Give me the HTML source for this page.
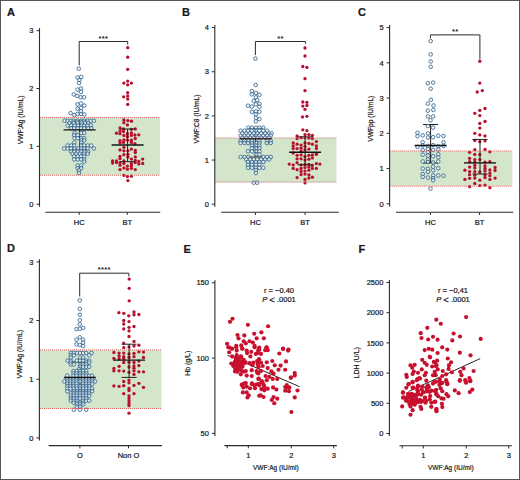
<!DOCTYPE html>
<html><head><meta charset="utf-8"><style>
html,body{margin:0;padding:0;background:#fff;}
svg{display:block;}
text{font-family:"Liberation Sans",sans-serif;fill:#1a1a1a;stroke:#1a1a1a;stroke-width:0.22px;}
</style></head><body>
<svg width="520" height="480" viewBox="0 0 520 480">
<rect x="0" y="0" width="520" height="480" fill="#fff"/>
<text x="7" y="16" font-size="11" text-anchor="start" font-weight="bold" font-style="normal" >A</text>
<rect x="39.5" y="117.44" width="120.5" height="57.83" fill="#d3e6cb"/>
<line x1="39.5" y1="28.09" x2="39.5" y2="206.79" stroke="#2b2b2b" stroke-width="1.1"/>
<line x1="36.5" y1="204.2" x2="39.5" y2="204.2" stroke="#2b2b2b" stroke-width="1"/>
<text x="33.5" y="206.89" font-size="7.5" text-anchor="end" font-weight="normal" font-style="normal" >0</text>
<line x1="36.5" y1="146.36" x2="39.5" y2="146.36" stroke="#2b2b2b" stroke-width="1"/>
<text x="33.5" y="149.06" font-size="7.5" text-anchor="end" font-weight="normal" font-style="normal" >1</text>
<line x1="36.5" y1="88.53" x2="39.5" y2="88.53" stroke="#2b2b2b" stroke-width="1"/>
<text x="33.5" y="91.23" font-size="7.5" text-anchor="end" font-weight="normal" font-style="normal" >2</text>
<line x1="36.5" y1="30.69" x2="39.5" y2="30.69" stroke="#2b2b2b" stroke-width="1"/>
<text x="33.5" y="33.39" font-size="7.5" text-anchor="end" font-weight="normal" font-style="normal" >3</text>
<line x1="45.5" y1="212.2" x2="160.2" y2="212.2" stroke="#2b2b2b" stroke-width="1.1"/>
<line x1="79.2" y1="212.2" x2="79.2" y2="214.89" stroke="#2b2b2b" stroke-width="1"/>
<text x="79.2" y="224.7" font-size="7.5" text-anchor="middle" font-weight="normal" font-style="normal" >HC</text>
<line x1="127.3" y1="212.2" x2="127.3" y2="214.89" stroke="#2b2b2b" stroke-width="1"/>
<text x="127.3" y="224.7" font-size="7.5" text-anchor="middle" font-weight="normal" font-style="normal" >BT</text>
<text transform="translate(23.0,119.9) rotate(-90) scale(0.83,1)" font-size="8" text-anchor="middle">VWF:Ag (IU/mL)</text>
<text x="182" y="16" font-size="11" text-anchor="start" font-weight="bold" font-style="normal" >B</text>
<rect x="214.8" y="137.97" width="121.69" height="44.15" fill="#d3e6cb"/>
<line x1="214.8" y1="25.0" x2="214.8" y2="206.79" stroke="#2b2b2b" stroke-width="1.1"/>
<line x1="211.8" y1="204.2" x2="214.8" y2="204.2" stroke="#2b2b2b" stroke-width="1"/>
<text x="208.8" y="206.89" font-size="7.5" text-anchor="end" font-weight="normal" font-style="normal" >0</text>
<line x1="211.8" y1="160.04" x2="214.8" y2="160.04" stroke="#2b2b2b" stroke-width="1"/>
<text x="208.8" y="162.74" font-size="7.5" text-anchor="end" font-weight="normal" font-style="normal" >1</text>
<line x1="211.8" y1="115.89" x2="214.8" y2="115.89" stroke="#2b2b2b" stroke-width="1"/>
<text x="208.8" y="118.6" font-size="7.5" text-anchor="end" font-weight="normal" font-style="normal" >2</text>
<line x1="211.8" y1="71.75" x2="214.8" y2="71.75" stroke="#2b2b2b" stroke-width="1"/>
<text x="208.8" y="74.45" font-size="7.5" text-anchor="end" font-weight="normal" font-style="normal" >3</text>
<line x1="211.8" y1="27.59" x2="214.8" y2="27.59" stroke="#2b2b2b" stroke-width="1"/>
<text x="208.8" y="30.29" font-size="7.5" text-anchor="end" font-weight="normal" font-style="normal" >4</text>
<line x1="221.3" y1="212.3" x2="338.7" y2="212.3" stroke="#2b2b2b" stroke-width="1.1"/>
<line x1="255.4" y1="212.3" x2="255.4" y2="215.0" stroke="#2b2b2b" stroke-width="1"/>
<text x="255.4" y="224.8" font-size="7.5" text-anchor="middle" font-weight="normal" font-style="normal" >HC</text>
<line x1="305.1" y1="212.3" x2="305.1" y2="215.0" stroke="#2b2b2b" stroke-width="1"/>
<text x="305.1" y="224.8" font-size="7.5" text-anchor="middle" font-weight="normal" font-style="normal" >BT</text>
<text transform="translate(199.1,119.0) rotate(-90) scale(0.83,1)" font-size="8" text-anchor="middle">VWF:C8 (IU/mL)</text>
<text x="358" y="16" font-size="11" text-anchor="start" font-weight="bold" font-style="normal" >C</text>
<rect x="389.6" y="150.94" width="122.69" height="35.24" fill="#d3e6cb"/>
<line x1="389.6" y1="25.0" x2="389.6" y2="206.4" stroke="#2b2b2b" stroke-width="1.1"/>
<line x1="386.6" y1="203.8" x2="389.6" y2="203.8" stroke="#2b2b2b" stroke-width="1"/>
<text x="383.6" y="206.5" font-size="7.5" text-anchor="end" font-weight="normal" font-style="normal" >0</text>
<line x1="386.6" y1="168.56" x2="389.6" y2="168.56" stroke="#2b2b2b" stroke-width="1"/>
<text x="383.6" y="171.26" font-size="7.5" text-anchor="end" font-weight="normal" font-style="normal" >1</text>
<line x1="386.6" y1="133.32" x2="389.6" y2="133.32" stroke="#2b2b2b" stroke-width="1"/>
<text x="383.6" y="136.01" font-size="7.5" text-anchor="end" font-weight="normal" font-style="normal" >2</text>
<line x1="386.6" y1="98.08" x2="389.6" y2="98.08" stroke="#2b2b2b" stroke-width="1"/>
<text x="383.6" y="100.78" font-size="7.5" text-anchor="end" font-weight="normal" font-style="normal" >3</text>
<line x1="386.6" y1="62.84" x2="389.6" y2="62.84" stroke="#2b2b2b" stroke-width="1"/>
<text x="383.6" y="65.54" font-size="7.5" text-anchor="end" font-weight="normal" font-style="normal" >4</text>
<line x1="386.6" y1="27.59" x2="389.6" y2="27.59" stroke="#2b2b2b" stroke-width="1"/>
<text x="383.6" y="30.29" font-size="7.5" text-anchor="end" font-weight="normal" font-style="normal" >5</text>
<line x1="396" y1="212.3" x2="513.3" y2="212.3" stroke="#2b2b2b" stroke-width="1.1"/>
<line x1="430.4" y1="212.3" x2="430.4" y2="215.0" stroke="#2b2b2b" stroke-width="1"/>
<text x="430.4" y="224.8" font-size="7.5" text-anchor="middle" font-weight="normal" font-style="normal" >HC</text>
<line x1="479.6" y1="212.3" x2="479.6" y2="215.0" stroke="#2b2b2b" stroke-width="1"/>
<text x="479.6" y="224.8" font-size="7.5" text-anchor="middle" font-weight="normal" font-style="normal" >BT</text>
<text transform="translate(372.6,118.75) rotate(-90) scale(0.83,1)" font-size="8" text-anchor="middle">VWFpp (IU/mL)</text>
<text x="7" y="252.3" font-size="11" text-anchor="start" font-weight="bold" font-style="normal" >D</text>
<rect x="39.4" y="349.9" width="122.1" height="58.66" fill="#d3e6cb"/>
<line x1="39.4" y1="259.29" x2="39.4" y2="440.5" stroke="#2b2b2b" stroke-width="1.1"/>
<line x1="36.4" y1="437.9" x2="39.4" y2="437.9" stroke="#2b2b2b" stroke-width="1"/>
<text x="33.4" y="440.59" font-size="7.5" text-anchor="end" font-weight="normal" font-style="normal" >0</text>
<line x1="36.4" y1="379.23" x2="39.4" y2="379.23" stroke="#2b2b2b" stroke-width="1"/>
<text x="33.4" y="381.93" font-size="7.5" text-anchor="end" font-weight="normal" font-style="normal" >1</text>
<line x1="36.4" y1="320.56" x2="39.4" y2="320.56" stroke="#2b2b2b" stroke-width="1"/>
<text x="33.4" y="323.26" font-size="7.5" text-anchor="end" font-weight="normal" font-style="normal" >2</text>
<line x1="36.4" y1="261.9" x2="39.4" y2="261.9" stroke="#2b2b2b" stroke-width="1"/>
<text x="33.4" y="264.59" font-size="7.5" text-anchor="end" font-weight="normal" font-style="normal" >3</text>
<line x1="48.7" y1="445.6" x2="161.9" y2="445.6" stroke="#2b2b2b" stroke-width="1.1"/>
<line x1="79.9" y1="445.6" x2="79.9" y2="448.3" stroke="#2b2b2b" stroke-width="1"/>
<text x="79.9" y="458.1" font-size="7.5" text-anchor="middle" font-weight="normal" font-style="normal" >O</text>
<line x1="128.5" y1="445.6" x2="128.5" y2="448.3" stroke="#2b2b2b" stroke-width="1"/>
<text x="128.5" y="458.1" font-size="7.5" text-anchor="middle" font-weight="normal" font-style="normal" >Non O</text>
<text transform="translate(22.2,354.2) rotate(-90) scale(0.83,1)" font-size="8" text-anchor="middle">VWF:Ag (IU/mL)</text>
<text x="183.5" y="252.5" font-size="11" text-anchor="start" font-weight="bold" font-style="normal" >E</text>
<line x1="214.9" y1="280.15" x2="214.9" y2="436.0" stroke="#2b2b2b" stroke-width="1.1"/>
<line x1="211.9" y1="433.4" x2="214.9" y2="433.4" stroke="#2b2b2b" stroke-width="1"/>
<text x="208.9" y="436.09" font-size="7.5" text-anchor="end" font-weight="normal" font-style="normal" >50</text>
<line x1="211.9" y1="358.07" x2="214.9" y2="358.07" stroke="#2b2b2b" stroke-width="1"/>
<text x="208.9" y="360.77" font-size="7.5" text-anchor="end" font-weight="normal" font-style="normal" >100</text>
<line x1="211.9" y1="282.75" x2="214.9" y2="282.75" stroke="#2b2b2b" stroke-width="1"/>
<text x="208.9" y="285.45" font-size="7.5" text-anchor="end" font-weight="normal" font-style="normal" >150</text>
<line x1="224.4" y1="445.6" x2="336.9" y2="445.6" stroke="#2b2b2b" stroke-width="1.1"/>
<line x1="227.2" y1="445.6" x2="227.2" y2="448.3" stroke="#2b2b2b" stroke-width="1"/>
<line x1="248.3" y1="445.6" x2="248.3" y2="448.3" stroke="#2b2b2b" stroke-width="1"/>
<text x="248.3" y="458.1" font-size="7.5" text-anchor="middle" font-weight="normal" font-style="normal" >1</text>
<line x1="291.25" y1="445.6" x2="291.25" y2="448.3" stroke="#2b2b2b" stroke-width="1"/>
<text x="291.25" y="458.1" font-size="7.5" text-anchor="middle" font-weight="normal" font-style="normal" >2</text>
<line x1="333.75" y1="445.6" x2="333.75" y2="448.3" stroke="#2b2b2b" stroke-width="1"/>
<text x="333.75" y="458.1" font-size="7.5" text-anchor="middle" font-weight="normal" font-style="normal" >3</text>
<text transform="translate(275.77,470.1) scale(0.87,1)" font-size="7.5" text-anchor="middle">VWF:Ag (IU/ml)</text>
<text transform="translate(189.6,363.3) rotate(-90) scale(0.87,1)" font-size="8" text-anchor="middle">Hb (g/L)</text>
<text x="358.5" y="252.5" font-size="11" text-anchor="start" font-weight="bold" font-style="normal" >F</text>
<line x1="389.4" y1="279.9" x2="389.4" y2="436.1" stroke="#2b2b2b" stroke-width="1.1"/>
<line x1="386.4" y1="433.5" x2="389.4" y2="433.5" stroke="#2b2b2b" stroke-width="1"/>
<text x="383.4" y="436.2" font-size="7.5" text-anchor="end" font-weight="normal" font-style="normal" >0</text>
<line x1="386.4" y1="403.3" x2="389.4" y2="403.3" stroke="#2b2b2b" stroke-width="1"/>
<text x="383.4" y="406.0" font-size="7.5" text-anchor="end" font-weight="normal" font-style="normal" >500</text>
<line x1="386.4" y1="373.1" x2="389.4" y2="373.1" stroke="#2b2b2b" stroke-width="1"/>
<text x="383.4" y="375.8" font-size="7.5" text-anchor="end" font-weight="normal" font-style="normal" >1000</text>
<line x1="386.4" y1="342.9" x2="389.4" y2="342.9" stroke="#2b2b2b" stroke-width="1"/>
<text x="383.4" y="345.59" font-size="7.5" text-anchor="end" font-weight="normal" font-style="normal" >1500</text>
<line x1="386.4" y1="312.7" x2="389.4" y2="312.7" stroke="#2b2b2b" stroke-width="1"/>
<text x="383.4" y="315.4" font-size="7.5" text-anchor="end" font-weight="normal" font-style="normal" >2000</text>
<line x1="386.4" y1="282.5" x2="389.4" y2="282.5" stroke="#2b2b2b" stroke-width="1"/>
<text x="383.4" y="285.2" font-size="7.5" text-anchor="end" font-weight="normal" font-style="normal" >2500</text>
<line x1="399.4" y1="445.8" x2="511.9" y2="445.8" stroke="#2b2b2b" stroke-width="1.1"/>
<line x1="402.2" y1="445.8" x2="402.2" y2="448.5" stroke="#2b2b2b" stroke-width="1"/>
<line x1="423.3" y1="445.8" x2="423.3" y2="448.5" stroke="#2b2b2b" stroke-width="1"/>
<text x="423.3" y="458.3" font-size="7.5" text-anchor="middle" font-weight="normal" font-style="normal" >1</text>
<line x1="466.25" y1="445.8" x2="466.25" y2="448.5" stroke="#2b2b2b" stroke-width="1"/>
<text x="466.25" y="458.3" font-size="7.5" text-anchor="middle" font-weight="normal" font-style="normal" >2</text>
<line x1="508.75" y1="445.8" x2="508.75" y2="448.5" stroke="#2b2b2b" stroke-width="1"/>
<text x="508.75" y="458.3" font-size="7.5" text-anchor="middle" font-weight="normal" font-style="normal" >3</text>
<text transform="translate(450.77,470.3) scale(0.87,1)" font-size="7.5" text-anchor="middle">VWF:Ag (IU/ml)</text>
<text transform="translate(359.3,362.8) rotate(-90) scale(0.87,1)" font-size="8" text-anchor="middle">LDH (U/L)</text>
<text x="279.0" y="293" font-size="7.5" text-anchor="middle" font-weight="normal" font-style="normal" >r = −0.40</text>
<text x="279.0" y="302.3" font-size="7.5" text-anchor="middle"><tspan font-style="italic">P</tspan> <tspan font-size="9.5" dy="0.3">&lt;</tspan><tspan dy="-0.3"> .0001</tspan></text>
<text x="453.0" y="293" font-size="7.5" text-anchor="middle" font-weight="normal" font-style="normal" >r = −0,41</text>
<text x="453.0" y="302.3" font-size="7.5" text-anchor="middle"><tspan font-style="italic">P</tspan> <tspan font-size="9.5" dy="0.3">&lt;</tspan><tspan dy="-0.3"> .0001</tspan></text>
<polyline points="79.2,65.4 79.2,41.5 127.7,41.5 127.7,44.6" fill="none" stroke="#2b2b2b" stroke-width="1"/>
<text x="103.45" y="40.5" font-size="7.5" text-anchor="middle" font-weight="bold" font-style="normal" style="stroke-width:0" letter-spacing="0.3">***</text>
<polyline points="255.4,55 255.4,41.5 305.4,41.5 305.4,43.8" fill="none" stroke="#2b2b2b" stroke-width="1"/>
<text x="280.4" y="40.5" font-size="7.5" text-anchor="middle" font-weight="bold" font-style="normal" style="stroke-width:0" letter-spacing="0.3">**</text>
<polyline points="430.4,38.2 430.4,34.9 479.9,34.9 479.9,59.2" fill="none" stroke="#2b2b2b" stroke-width="1"/>
<text x="455.15" y="34" font-size="7.5" text-anchor="middle" font-weight="bold" font-style="normal" style="stroke-width:0" letter-spacing="0.3">**</text>
<polyline points="79.7,296.5 79.7,273.2 128.9,273.2 128.9,276.5" fill="none" stroke="#2b2b2b" stroke-width="1"/>
<text x="104.30" y="272" font-size="7.5" text-anchor="middle" font-weight="bold" font-style="normal" style="stroke-width:0" letter-spacing="0.3">****</text>
<line x1="79.6" y1="120.4" x2="79.6" y2="149.2" stroke="#1e1e1e" stroke-width="1"/>
<line x1="72.1" y1="120.4" x2="87.1" y2="120.4" stroke="#1e1e1e" stroke-width="1"/>
<line x1="72.1" y1="149.2" x2="87.1" y2="149.2" stroke="#1e1e1e" stroke-width="1"/>
<circle cx="78.75" cy="68.75" r="1.8" fill="#f2f7fa" fill-opacity="0.6" stroke="#2b5d8a" stroke-width="0.8"/>
<circle cx="77.5" cy="77.5" r="1.8" fill="#f2f7fa" fill-opacity="0.6" stroke="#2b5d8a" stroke-width="0.8"/>
<circle cx="81.25" cy="76.9" r="1.8" fill="#f2f7fa" fill-opacity="0.6" stroke="#2b5d8a" stroke-width="0.8"/>
<circle cx="79.4" cy="80" r="1.8" fill="#f2f7fa" fill-opacity="0.6" stroke="#2b5d8a" stroke-width="0.8"/>
<circle cx="79" cy="83.1" r="1.8" fill="#f2f7fa" fill-opacity="0.6" stroke="#2b5d8a" stroke-width="0.8"/>
<circle cx="77.5" cy="89.6" r="1.8" fill="#f2f7fa" fill-opacity="0.6" stroke="#2b5d8a" stroke-width="0.8"/>
<circle cx="81" cy="88.5" r="1.8" fill="#f2f7fa" fill-opacity="0.6" stroke="#2b5d8a" stroke-width="0.8"/>
<circle cx="81" cy="91.9" r="1.8" fill="#f2f7fa" fill-opacity="0.6" stroke="#2b5d8a" stroke-width="0.8"/>
<circle cx="73.75" cy="94.4" r="1.8" fill="#f2f7fa" fill-opacity="0.6" stroke="#2b5d8a" stroke-width="0.8"/>
<circle cx="77.25" cy="96" r="1.8" fill="#f2f7fa" fill-opacity="0.6" stroke="#2b5d8a" stroke-width="0.8"/>
<circle cx="80.6" cy="97.25" r="1.8" fill="#f2f7fa" fill-opacity="0.6" stroke="#2b5d8a" stroke-width="0.8"/>
<circle cx="84" cy="97.25" r="1.8" fill="#f2f7fa" fill-opacity="0.6" stroke="#2b5d8a" stroke-width="0.8"/>
<circle cx="77.5" cy="104.4" r="1.8" fill="#f2f7fa" fill-opacity="0.6" stroke="#2b5d8a" stroke-width="0.8"/>
<circle cx="81" cy="103.5" r="1.8" fill="#f2f7fa" fill-opacity="0.6" stroke="#2b5d8a" stroke-width="0.8"/>
<circle cx="84.4" cy="105.6" r="1.8" fill="#f2f7fa" fill-opacity="0.6" stroke="#2b5d8a" stroke-width="0.8"/>
<circle cx="77.5" cy="108.75" r="1.8" fill="#f2f7fa" fill-opacity="0.6" stroke="#2b5d8a" stroke-width="0.8"/>
<circle cx="81" cy="108" r="1.8" fill="#f2f7fa" fill-opacity="0.6" stroke="#2b5d8a" stroke-width="0.8"/>
<circle cx="81" cy="111.25" r="1.8" fill="#f2f7fa" fill-opacity="0.6" stroke="#2b5d8a" stroke-width="0.8"/>
<circle cx="70.6" cy="113.1" r="1.8" fill="#f2f7fa" fill-opacity="0.6" stroke="#2b5d8a" stroke-width="0.8"/>
<circle cx="74.4" cy="115" r="1.8" fill="#f2f7fa" fill-opacity="0.6" stroke="#2b5d8a" stroke-width="0.8"/>
<circle cx="77.5" cy="114" r="1.8" fill="#f2f7fa" fill-opacity="0.6" stroke="#2b5d8a" stroke-width="0.8"/>
<circle cx="81" cy="114" r="1.8" fill="#f2f7fa" fill-opacity="0.6" stroke="#2b5d8a" stroke-width="0.8"/>
<circle cx="84.4" cy="114.4" r="1.8" fill="#f2f7fa" fill-opacity="0.6" stroke="#2b5d8a" stroke-width="0.8"/>
<circle cx="64.6" cy="120.75" r="1.8" fill="#f2f7fa" fill-opacity="0.6" stroke="#2b5d8a" stroke-width="0.8"/>
<circle cx="67.6" cy="120.75" r="1.8" fill="#f2f7fa" fill-opacity="0.6" stroke="#2b5d8a" stroke-width="0.8"/>
<circle cx="70.7" cy="120.75" r="1.8" fill="#f2f7fa" fill-opacity="0.6" stroke="#2b5d8a" stroke-width="0.8"/>
<circle cx="73.7" cy="120.75" r="1.8" fill="#f2f7fa" fill-opacity="0.6" stroke="#2b5d8a" stroke-width="0.8"/>
<circle cx="77.2" cy="120.75" r="1.8" fill="#f2f7fa" fill-opacity="0.6" stroke="#2b5d8a" stroke-width="0.8"/>
<circle cx="81.2" cy="120.75" r="1.8" fill="#f2f7fa" fill-opacity="0.6" stroke="#2b5d8a" stroke-width="0.8"/>
<circle cx="84.2" cy="120.75" r="1.8" fill="#f2f7fa" fill-opacity="0.6" stroke="#2b5d8a" stroke-width="0.8"/>
<circle cx="87.7" cy="120.75" r="1.8" fill="#f2f7fa" fill-opacity="0.6" stroke="#2b5d8a" stroke-width="0.8"/>
<circle cx="90.8" cy="120.75" r="1.8" fill="#f2f7fa" fill-opacity="0.6" stroke="#2b5d8a" stroke-width="0.8"/>
<circle cx="93.9" cy="120.75" r="1.8" fill="#f2f7fa" fill-opacity="0.6" stroke="#2b5d8a" stroke-width="0.8"/>
<circle cx="69.4" cy="122.9" r="1.8" fill="#f2f7fa" fill-opacity="0.6" stroke="#2b5d8a" stroke-width="0.8"/>
<circle cx="73.7" cy="122.9" r="1.8" fill="#f2f7fa" fill-opacity="0.6" stroke="#2b5d8a" stroke-width="0.8"/>
<circle cx="77.7" cy="122.9" r="1.8" fill="#f2f7fa" fill-opacity="0.6" stroke="#2b5d8a" stroke-width="0.8"/>
<circle cx="81.6" cy="122.9" r="1.8" fill="#f2f7fa" fill-opacity="0.6" stroke="#2b5d8a" stroke-width="0.8"/>
<circle cx="85.1" cy="122.9" r="1.8" fill="#f2f7fa" fill-opacity="0.6" stroke="#2b5d8a" stroke-width="0.8"/>
<circle cx="88.2" cy="122.9" r="1.8" fill="#f2f7fa" fill-opacity="0.6" stroke="#2b5d8a" stroke-width="0.8"/>
<circle cx="67.6" cy="125.6" r="1.8" fill="#f2f7fa" fill-opacity="0.6" stroke="#2b5d8a" stroke-width="0.8"/>
<circle cx="71.1" cy="125.6" r="1.8" fill="#f2f7fa" fill-opacity="0.6" stroke="#2b5d8a" stroke-width="0.8"/>
<circle cx="74.6" cy="125.6" r="1.8" fill="#f2f7fa" fill-opacity="0.6" stroke="#2b5d8a" stroke-width="0.8"/>
<circle cx="78.1" cy="125.6" r="1.8" fill="#f2f7fa" fill-opacity="0.6" stroke="#2b5d8a" stroke-width="0.8"/>
<circle cx="81.6" cy="125.6" r="1.8" fill="#f2f7fa" fill-opacity="0.6" stroke="#2b5d8a" stroke-width="0.8"/>
<circle cx="84.2" cy="125.6" r="1.8" fill="#f2f7fa" fill-opacity="0.6" stroke="#2b5d8a" stroke-width="0.8"/>
<circle cx="87.7" cy="125.6" r="1.8" fill="#f2f7fa" fill-opacity="0.6" stroke="#2b5d8a" stroke-width="0.8"/>
<circle cx="90.8" cy="125.6" r="1.8" fill="#f2f7fa" fill-opacity="0.6" stroke="#2b5d8a" stroke-width="0.8"/>
<circle cx="71.1" cy="128.2" r="1.8" fill="#f2f7fa" fill-opacity="0.6" stroke="#2b5d8a" stroke-width="0.8"/>
<circle cx="74.2" cy="128.2" r="1.8" fill="#f2f7fa" fill-opacity="0.6" stroke="#2b5d8a" stroke-width="0.8"/>
<circle cx="77.7" cy="128.2" r="1.8" fill="#f2f7fa" fill-opacity="0.6" stroke="#2b5d8a" stroke-width="0.8"/>
<circle cx="81.2" cy="128.2" r="1.8" fill="#f2f7fa" fill-opacity="0.6" stroke="#2b5d8a" stroke-width="0.8"/>
<circle cx="84.2" cy="128.2" r="1.8" fill="#f2f7fa" fill-opacity="0.6" stroke="#2b5d8a" stroke-width="0.8"/>
<circle cx="88.2" cy="128.2" r="1.8" fill="#f2f7fa" fill-opacity="0.6" stroke="#2b5d8a" stroke-width="0.8"/>
<circle cx="91.2" cy="128.2" r="1.8" fill="#f2f7fa" fill-opacity="0.6" stroke="#2b5d8a" stroke-width="0.8"/>
<circle cx="74.6" cy="133" r="1.8" fill="#f2f7fa" fill-opacity="0.6" stroke="#2b5d8a" stroke-width="0.8"/>
<circle cx="81.2" cy="133" r="1.8" fill="#f2f7fa" fill-opacity="0.6" stroke="#2b5d8a" stroke-width="0.8"/>
<circle cx="84.2" cy="133" r="1.8" fill="#f2f7fa" fill-opacity="0.6" stroke="#2b5d8a" stroke-width="0.8"/>
<circle cx="74.2" cy="135.2" r="1.8" fill="#f2f7fa" fill-opacity="0.6" stroke="#2b5d8a" stroke-width="0.8"/>
<circle cx="77.7" cy="135.2" r="1.8" fill="#f2f7fa" fill-opacity="0.6" stroke="#2b5d8a" stroke-width="0.8"/>
<circle cx="74.6" cy="138.2" r="1.8" fill="#f2f7fa" fill-opacity="0.6" stroke="#2b5d8a" stroke-width="0.8"/>
<circle cx="77.7" cy="138.2" r="1.8" fill="#f2f7fa" fill-opacity="0.6" stroke="#2b5d8a" stroke-width="0.8"/>
<circle cx="81.2" cy="138.2" r="1.8" fill="#f2f7fa" fill-opacity="0.6" stroke="#2b5d8a" stroke-width="0.8"/>
<circle cx="84.2" cy="138.2" r="1.8" fill="#f2f7fa" fill-opacity="0.6" stroke="#2b5d8a" stroke-width="0.8"/>
<circle cx="81.2" cy="140.4" r="1.8" fill="#f2f7fa" fill-opacity="0.6" stroke="#2b5d8a" stroke-width="0.8"/>
<circle cx="84.2" cy="140.4" r="1.8" fill="#f2f7fa" fill-opacity="0.6" stroke="#2b5d8a" stroke-width="0.8"/>
<circle cx="74.2" cy="142.6" r="1.8" fill="#f2f7fa" fill-opacity="0.6" stroke="#2b5d8a" stroke-width="0.8"/>
<circle cx="81.2" cy="142.6" r="1.8" fill="#f2f7fa" fill-opacity="0.6" stroke="#2b5d8a" stroke-width="0.8"/>
<circle cx="67.6" cy="145.5" r="1.8" fill="#f2f7fa" fill-opacity="0.6" stroke="#2b5d8a" stroke-width="0.8"/>
<circle cx="71.1" cy="145.5" r="1.8" fill="#f2f7fa" fill-opacity="0.6" stroke="#2b5d8a" stroke-width="0.8"/>
<circle cx="74.2" cy="145.5" r="1.8" fill="#f2f7fa" fill-opacity="0.6" stroke="#2b5d8a" stroke-width="0.8"/>
<circle cx="81.2" cy="145.5" r="1.8" fill="#f2f7fa" fill-opacity="0.6" stroke="#2b5d8a" stroke-width="0.8"/>
<circle cx="84.2" cy="145.5" r="1.8" fill="#f2f7fa" fill-opacity="0.6" stroke="#2b5d8a" stroke-width="0.8"/>
<circle cx="87.7" cy="145.5" r="1.8" fill="#f2f7fa" fill-opacity="0.6" stroke="#2b5d8a" stroke-width="0.8"/>
<circle cx="91.2" cy="145.5" r="1.8" fill="#f2f7fa" fill-opacity="0.6" stroke="#2b5d8a" stroke-width="0.8"/>
<circle cx="64.1" cy="148.5" r="1.8" fill="#f2f7fa" fill-opacity="0.6" stroke="#2b5d8a" stroke-width="0.8"/>
<circle cx="67.6" cy="148.5" r="1.8" fill="#f2f7fa" fill-opacity="0.6" stroke="#2b5d8a" stroke-width="0.8"/>
<circle cx="71.1" cy="148.5" r="1.8" fill="#f2f7fa" fill-opacity="0.6" stroke="#2b5d8a" stroke-width="0.8"/>
<circle cx="74.6" cy="148.5" r="1.8" fill="#f2f7fa" fill-opacity="0.6" stroke="#2b5d8a" stroke-width="0.8"/>
<circle cx="78.1" cy="148.5" r="1.8" fill="#f2f7fa" fill-opacity="0.6" stroke="#2b5d8a" stroke-width="0.8"/>
<circle cx="81.2" cy="148.5" r="1.8" fill="#f2f7fa" fill-opacity="0.6" stroke="#2b5d8a" stroke-width="0.8"/>
<circle cx="84.2" cy="148.5" r="1.8" fill="#f2f7fa" fill-opacity="0.6" stroke="#2b5d8a" stroke-width="0.8"/>
<circle cx="87.7" cy="148.5" r="1.8" fill="#f2f7fa" fill-opacity="0.6" stroke="#2b5d8a" stroke-width="0.8"/>
<circle cx="93.9" cy="148.5" r="1.8" fill="#f2f7fa" fill-opacity="0.6" stroke="#2b5d8a" stroke-width="0.8"/>
<circle cx="71.1" cy="151.6" r="1.8" fill="#f2f7fa" fill-opacity="0.6" stroke="#2b5d8a" stroke-width="0.8"/>
<circle cx="74.2" cy="151.6" r="1.8" fill="#f2f7fa" fill-opacity="0.6" stroke="#2b5d8a" stroke-width="0.8"/>
<circle cx="77.7" cy="151.6" r="1.8" fill="#f2f7fa" fill-opacity="0.6" stroke="#2b5d8a" stroke-width="0.8"/>
<circle cx="81.2" cy="151.6" r="1.8" fill="#f2f7fa" fill-opacity="0.6" stroke="#2b5d8a" stroke-width="0.8"/>
<circle cx="84.2" cy="151.6" r="1.8" fill="#f2f7fa" fill-opacity="0.6" stroke="#2b5d8a" stroke-width="0.8"/>
<circle cx="88.2" cy="151.6" r="1.8" fill="#f2f7fa" fill-opacity="0.6" stroke="#2b5d8a" stroke-width="0.8"/>
<circle cx="72.4" cy="153.7" r="1.8" fill="#f2f7fa" fill-opacity="0.6" stroke="#2b5d8a" stroke-width="0.8"/>
<circle cx="76.4" cy="153.7" r="1.8" fill="#f2f7fa" fill-opacity="0.6" stroke="#2b5d8a" stroke-width="0.8"/>
<circle cx="79.9" cy="153.7" r="1.8" fill="#f2f7fa" fill-opacity="0.6" stroke="#2b5d8a" stroke-width="0.8"/>
<circle cx="84.2" cy="153.7" r="1.8" fill="#f2f7fa" fill-opacity="0.6" stroke="#2b5d8a" stroke-width="0.8"/>
<circle cx="87.7" cy="153.7" r="1.8" fill="#f2f7fa" fill-opacity="0.6" stroke="#2b5d8a" stroke-width="0.8"/>
<circle cx="74.2" cy="156.4" r="1.8" fill="#f2f7fa" fill-opacity="0.6" stroke="#2b5d8a" stroke-width="0.8"/>
<circle cx="77.7" cy="156.4" r="1.8" fill="#f2f7fa" fill-opacity="0.6" stroke="#2b5d8a" stroke-width="0.8"/>
<circle cx="81.2" cy="156.4" r="1.8" fill="#f2f7fa" fill-opacity="0.6" stroke="#2b5d8a" stroke-width="0.8"/>
<circle cx="84.2" cy="156.4" r="1.8" fill="#f2f7fa" fill-opacity="0.6" stroke="#2b5d8a" stroke-width="0.8"/>
<circle cx="74.2" cy="159.4" r="1.8" fill="#f2f7fa" fill-opacity="0.6" stroke="#2b5d8a" stroke-width="0.8"/>
<circle cx="77.7" cy="159.4" r="1.8" fill="#f2f7fa" fill-opacity="0.6" stroke="#2b5d8a" stroke-width="0.8"/>
<circle cx="81.2" cy="159.4" r="1.8" fill="#f2f7fa" fill-opacity="0.6" stroke="#2b5d8a" stroke-width="0.8"/>
<circle cx="84.2" cy="159.4" r="1.8" fill="#f2f7fa" fill-opacity="0.6" stroke="#2b5d8a" stroke-width="0.8"/>
<circle cx="84.2" cy="161.6" r="1.8" fill="#f2f7fa" fill-opacity="0.6" stroke="#2b5d8a" stroke-width="0.8"/>
<circle cx="77.7" cy="165.6" r="1.8" fill="#f2f7fa" fill-opacity="0.6" stroke="#2b5d8a" stroke-width="0.8"/>
<circle cx="81.2" cy="165.6" r="1.8" fill="#f2f7fa" fill-opacity="0.6" stroke="#2b5d8a" stroke-width="0.8"/>
<circle cx="77.7" cy="168.2" r="1.8" fill="#f2f7fa" fill-opacity="0.6" stroke="#2b5d8a" stroke-width="0.8"/>
<circle cx="81.2" cy="168.2" r="1.8" fill="#f2f7fa" fill-opacity="0.6" stroke="#2b5d8a" stroke-width="0.8"/>
<circle cx="79" cy="170.4" r="1.8" fill="#f2f7fa" fill-opacity="0.6" stroke="#2b5d8a" stroke-width="0.8"/>
<circle cx="79" cy="173" r="1.8" fill="#f2f7fa" fill-opacity="0.6" stroke="#2b5d8a" stroke-width="0.8"/>
<circle cx="127.7" cy="47.7" r="1.65" fill="#b80f2c"/>
<circle cx="127.7" cy="57.2" r="1.65" fill="#b80f2c"/>
<circle cx="127.7" cy="69.3" r="1.65" fill="#b80f2c"/>
<circle cx="127.7" cy="81.1" r="1.65" fill="#b80f2c"/>
<circle cx="123.9" cy="83.1" r="1.65" fill="#b80f2c"/>
<circle cx="131.4" cy="83.1" r="1.65" fill="#b80f2c"/>
<circle cx="127.7" cy="84.8" r="1.65" fill="#b80f2c"/>
<circle cx="127.7" cy="92.7" r="1.65" fill="#b80f2c"/>
<circle cx="127.7" cy="95.9" r="1.65" fill="#b80f2c"/>
<circle cx="123.7" cy="96.8" r="1.65" fill="#b80f2c"/>
<circle cx="127.7" cy="99" r="1.65" fill="#b80f2c"/>
<circle cx="127.7" cy="104.4" r="1.65" fill="#b80f2c"/>
<circle cx="123.9" cy="119.9" r="1.65" fill="#b80f2c"/>
<circle cx="127.9" cy="120.6" r="1.65" fill="#b80f2c"/>
<circle cx="131.5" cy="121.2" r="1.65" fill="#b80f2c"/>
<circle cx="123.9" cy="122.7" r="1.65" fill="#b80f2c"/>
<circle cx="127.4" cy="124.9" r="1.65" fill="#b80f2c"/>
<circle cx="120" cy="128" r="1.65" fill="#b80f2c"/>
<circle cx="123.5" cy="128.9" r="1.65" fill="#b80f2c"/>
<circle cx="131.4" cy="129.3" r="1.65" fill="#b80f2c"/>
<circle cx="135.3" cy="128.9" r="1.65" fill="#b80f2c"/>
<circle cx="120" cy="131.1" r="1.65" fill="#b80f2c"/>
<circle cx="123.5" cy="131.5" r="1.65" fill="#b80f2c"/>
<circle cx="116.5" cy="133.2" r="1.65" fill="#b80f2c"/>
<circle cx="120" cy="133.7" r="1.65" fill="#b80f2c"/>
<circle cx="127.4" cy="133.7" r="1.65" fill="#b80f2c"/>
<circle cx="131.4" cy="132.8" r="1.65" fill="#b80f2c"/>
<circle cx="131.4" cy="135.4" r="1.65" fill="#b80f2c"/>
<circle cx="134.9" cy="135" r="1.65" fill="#b80f2c"/>
<circle cx="138.8" cy="134.8" r="1.65" fill="#b80f2c"/>
<circle cx="123.9" cy="135.4" r="1.65" fill="#b80f2c"/>
<circle cx="127.4" cy="136.7" r="1.65" fill="#b80f2c"/>
<circle cx="135.3" cy="138.5" r="1.65" fill="#b80f2c"/>
<circle cx="123.9" cy="139.8" r="1.65" fill="#b80f2c"/>
<circle cx="120" cy="140.7" r="1.65" fill="#b80f2c"/>
<circle cx="127.4" cy="140.2" r="1.65" fill="#b80f2c"/>
<circle cx="131.4" cy="140.2" r="1.65" fill="#b80f2c"/>
<circle cx="123.5" cy="142.4" r="1.65" fill="#b80f2c"/>
<circle cx="120" cy="142.9" r="1.65" fill="#b80f2c"/>
<circle cx="131.4" cy="142.4" r="1.65" fill="#b80f2c"/>
<circle cx="134.9" cy="143.7" r="1.65" fill="#b80f2c"/>
<circle cx="123.9" cy="147.3" r="1.65" fill="#b80f2c"/>
<circle cx="131.4" cy="149.1" r="1.65" fill="#b80f2c"/>
<circle cx="120" cy="149.9" r="1.65" fill="#b80f2c"/>
<circle cx="123.9" cy="150.8" r="1.65" fill="#b80f2c"/>
<circle cx="127.9" cy="150.8" r="1.65" fill="#b80f2c"/>
<circle cx="135.3" cy="150.4" r="1.65" fill="#b80f2c"/>
<circle cx="135.3" cy="152.6" r="1.65" fill="#b80f2c"/>
<circle cx="127.9" cy="154.3" r="1.65" fill="#b80f2c"/>
<circle cx="123.9" cy="154.7" r="1.65" fill="#b80f2c"/>
<circle cx="120" cy="156.5" r="1.65" fill="#b80f2c"/>
<circle cx="135.3" cy="156.9" r="1.65" fill="#b80f2c"/>
<circle cx="120" cy="158.7" r="1.65" fill="#b80f2c"/>
<circle cx="127.9" cy="156.9" r="1.65" fill="#b80f2c"/>
<circle cx="131.4" cy="159.1" r="1.65" fill="#b80f2c"/>
<circle cx="142.7" cy="159.1" r="1.65" fill="#b80f2c"/>
<circle cx="112.6" cy="160.9" r="1.65" fill="#b80f2c"/>
<circle cx="116.5" cy="160.9" r="1.65" fill="#b80f2c"/>
<circle cx="123.9" cy="160.9" r="1.65" fill="#b80f2c"/>
<circle cx="135.3" cy="160.4" r="1.65" fill="#b80f2c"/>
<circle cx="138.8" cy="161.3" r="1.65" fill="#b80f2c"/>
<circle cx="112.6" cy="163.1" r="1.65" fill="#b80f2c"/>
<circle cx="116.5" cy="162.6" r="1.65" fill="#b80f2c"/>
<circle cx="120" cy="162.6" r="1.65" fill="#b80f2c"/>
<circle cx="123.9" cy="163.5" r="1.65" fill="#b80f2c"/>
<circle cx="131.4" cy="163.5" r="1.65" fill="#b80f2c"/>
<circle cx="135.3" cy="162.6" r="1.65" fill="#b80f2c"/>
<circle cx="138.8" cy="163.9" r="1.65" fill="#b80f2c"/>
<circle cx="142.7" cy="163.5" r="1.65" fill="#b80f2c"/>
<circle cx="120" cy="165.2" r="1.65" fill="#b80f2c"/>
<circle cx="127.4" cy="166.1" r="1.65" fill="#b80f2c"/>
<circle cx="131.4" cy="165.7" r="1.65" fill="#b80f2c"/>
<circle cx="123.9" cy="167.9" r="1.65" fill="#b80f2c"/>
<circle cx="127.4" cy="169.2" r="1.65" fill="#b80f2c"/>
<circle cx="131.4" cy="168.3" r="1.65" fill="#b80f2c"/>
<circle cx="120" cy="169.6" r="1.65" fill="#b80f2c"/>
<circle cx="135.3" cy="169.6" r="1.65" fill="#b80f2c"/>
<circle cx="123.9" cy="175.3" r="1.65" fill="#b80f2c"/>
<circle cx="127.4" cy="176.6" r="1.65" fill="#b80f2c"/>
<circle cx="131.4" cy="176.2" r="1.65" fill="#b80f2c"/>
<circle cx="127.9" cy="180.6" r="1.65" fill="#b80f2c"/>
<line x1="127.6" y1="129" x2="127.6" y2="161.7" stroke="#1e1e1e" stroke-width="1"/>
<line x1="120.1" y1="129" x2="135.1" y2="129" stroke="#1e1e1e" stroke-width="1"/>
<line x1="120.1" y1="161.7" x2="135.1" y2="161.7" stroke="#1e1e1e" stroke-width="1"/>
<line x1="63.59" y1="129.9" x2="95.6" y2="129.9" stroke="#141414" stroke-width="1.35"/>
<line x1="111.6" y1="145" x2="143.6" y2="145" stroke="#141414" stroke-width="1.35"/>
<line x1="255.6" y1="128.4" x2="255.6" y2="157" stroke="#1e1e1e" stroke-width="1"/>
<line x1="248.1" y1="128.4" x2="263.1" y2="128.4" stroke="#1e1e1e" stroke-width="1"/>
<line x1="248.1" y1="157" x2="263.1" y2="157" stroke="#1e1e1e" stroke-width="1"/>
<circle cx="255.4" cy="58.6" r="1.8" fill="#f2f7fa" fill-opacity="0.6" stroke="#2b5d8a" stroke-width="0.8"/>
<circle cx="255.7" cy="85" r="1.8" fill="#f2f7fa" fill-opacity="0.6" stroke="#2b5d8a" stroke-width="0.8"/>
<circle cx="251.9" cy="91.1" r="1.8" fill="#f2f7fa" fill-opacity="0.6" stroke="#2b5d8a" stroke-width="0.8"/>
<circle cx="251.9" cy="94.3" r="1.8" fill="#f2f7fa" fill-opacity="0.6" stroke="#2b5d8a" stroke-width="0.8"/>
<circle cx="255.9" cy="93" r="1.8" fill="#f2f7fa" fill-opacity="0.6" stroke="#2b5d8a" stroke-width="0.8"/>
<circle cx="259.4" cy="94.7" r="1.8" fill="#f2f7fa" fill-opacity="0.6" stroke="#2b5d8a" stroke-width="0.8"/>
<circle cx="255.9" cy="97.4" r="1.8" fill="#f2f7fa" fill-opacity="0.6" stroke="#2b5d8a" stroke-width="0.8"/>
<circle cx="253.7" cy="100.9" r="1.8" fill="#f2f7fa" fill-opacity="0.6" stroke="#2b5d8a" stroke-width="0.8"/>
<circle cx="257.2" cy="100" r="1.8" fill="#f2f7fa" fill-opacity="0.6" stroke="#2b5d8a" stroke-width="0.8"/>
<circle cx="255.9" cy="104.4" r="1.8" fill="#f2f7fa" fill-opacity="0.6" stroke="#2b5d8a" stroke-width="0.8"/>
<circle cx="259.4" cy="103.9" r="1.8" fill="#f2f7fa" fill-opacity="0.6" stroke="#2b5d8a" stroke-width="0.8"/>
<circle cx="248" cy="105.7" r="1.8" fill="#f2f7fa" fill-opacity="0.6" stroke="#2b5d8a" stroke-width="0.8"/>
<circle cx="251.9" cy="106.6" r="1.8" fill="#f2f7fa" fill-opacity="0.6" stroke="#2b5d8a" stroke-width="0.8"/>
<circle cx="259.4" cy="106.8" r="1.8" fill="#f2f7fa" fill-opacity="0.6" stroke="#2b5d8a" stroke-width="0.8"/>
<circle cx="251.9" cy="111.8" r="1.8" fill="#f2f7fa" fill-opacity="0.6" stroke="#2b5d8a" stroke-width="0.8"/>
<circle cx="255.9" cy="111.4" r="1.8" fill="#f2f7fa" fill-opacity="0.6" stroke="#2b5d8a" stroke-width="0.8"/>
<circle cx="259.4" cy="111.8" r="1.8" fill="#f2f7fa" fill-opacity="0.6" stroke="#2b5d8a" stroke-width="0.8"/>
<circle cx="255.9" cy="114.4" r="1.8" fill="#f2f7fa" fill-opacity="0.6" stroke="#2b5d8a" stroke-width="0.8"/>
<circle cx="255.9" cy="117.9" r="1.8" fill="#f2f7fa" fill-opacity="0.6" stroke="#2b5d8a" stroke-width="0.8"/>
<circle cx="259.4" cy="119.1" r="1.8" fill="#f2f7fa" fill-opacity="0.6" stroke="#2b5d8a" stroke-width="0.8"/>
<circle cx="255.9" cy="121.4" r="1.8" fill="#f2f7fa" fill-opacity="0.6" stroke="#2b5d8a" stroke-width="0.8"/>
<circle cx="248.4" cy="127.7" r="1.8" fill="#f2f7fa" fill-opacity="0.6" stroke="#2b5d8a" stroke-width="0.8"/>
<circle cx="251.9" cy="127.7" r="1.8" fill="#f2f7fa" fill-opacity="0.6" stroke="#2b5d8a" stroke-width="0.8"/>
<circle cx="255.9" cy="127.7" r="1.8" fill="#f2f7fa" fill-opacity="0.6" stroke="#2b5d8a" stroke-width="0.8"/>
<circle cx="259.4" cy="127.7" r="1.8" fill="#f2f7fa" fill-opacity="0.6" stroke="#2b5d8a" stroke-width="0.8"/>
<circle cx="263.3" cy="127.7" r="1.8" fill="#f2f7fa" fill-opacity="0.6" stroke="#2b5d8a" stroke-width="0.8"/>
<circle cx="240.6" cy="130.7" r="1.8" fill="#f2f7fa" fill-opacity="0.6" stroke="#2b5d8a" stroke-width="0.8"/>
<circle cx="244.5" cy="130.7" r="1.8" fill="#f2f7fa" fill-opacity="0.6" stroke="#2b5d8a" stroke-width="0.8"/>
<circle cx="248" cy="130.7" r="1.8" fill="#f2f7fa" fill-opacity="0.6" stroke="#2b5d8a" stroke-width="0.8"/>
<circle cx="251.9" cy="130.7" r="1.8" fill="#f2f7fa" fill-opacity="0.6" stroke="#2b5d8a" stroke-width="0.8"/>
<circle cx="255.9" cy="130.7" r="1.8" fill="#f2f7fa" fill-opacity="0.6" stroke="#2b5d8a" stroke-width="0.8"/>
<circle cx="259.4" cy="130.7" r="1.8" fill="#f2f7fa" fill-opacity="0.6" stroke="#2b5d8a" stroke-width="0.8"/>
<circle cx="263.3" cy="130.7" r="1.8" fill="#f2f7fa" fill-opacity="0.6" stroke="#2b5d8a" stroke-width="0.8"/>
<circle cx="267.2" cy="130.7" r="1.8" fill="#f2f7fa" fill-opacity="0.6" stroke="#2b5d8a" stroke-width="0.8"/>
<circle cx="242.3" cy="133.4" r="1.8" fill="#f2f7fa" fill-opacity="0.6" stroke="#2b5d8a" stroke-width="0.8"/>
<circle cx="246.2" cy="133.4" r="1.8" fill="#f2f7fa" fill-opacity="0.6" stroke="#2b5d8a" stroke-width="0.8"/>
<circle cx="249.7" cy="133.4" r="1.8" fill="#f2f7fa" fill-opacity="0.6" stroke="#2b5d8a" stroke-width="0.8"/>
<circle cx="253.7" cy="133.4" r="1.8" fill="#f2f7fa" fill-opacity="0.6" stroke="#2b5d8a" stroke-width="0.8"/>
<circle cx="257.2" cy="133.4" r="1.8" fill="#f2f7fa" fill-opacity="0.6" stroke="#2b5d8a" stroke-width="0.8"/>
<circle cx="261.1" cy="133.4" r="1.8" fill="#f2f7fa" fill-opacity="0.6" stroke="#2b5d8a" stroke-width="0.8"/>
<circle cx="265.1" cy="133.4" r="1.8" fill="#f2f7fa" fill-opacity="0.6" stroke="#2b5d8a" stroke-width="0.8"/>
<circle cx="269" cy="133.4" r="1.8" fill="#f2f7fa" fill-opacity="0.6" stroke="#2b5d8a" stroke-width="0.8"/>
<circle cx="271.6" cy="133.4" r="1.8" fill="#f2f7fa" fill-opacity="0.6" stroke="#2b5d8a" stroke-width="0.8"/>
<circle cx="240.6" cy="135.6" r="1.8" fill="#f2f7fa" fill-opacity="0.6" stroke="#2b5d8a" stroke-width="0.8"/>
<circle cx="244.5" cy="135.6" r="1.8" fill="#f2f7fa" fill-opacity="0.6" stroke="#2b5d8a" stroke-width="0.8"/>
<circle cx="248" cy="135.6" r="1.8" fill="#f2f7fa" fill-opacity="0.6" stroke="#2b5d8a" stroke-width="0.8"/>
<circle cx="251.9" cy="135.6" r="1.8" fill="#f2f7fa" fill-opacity="0.6" stroke="#2b5d8a" stroke-width="0.8"/>
<circle cx="255.9" cy="135.6" r="1.8" fill="#f2f7fa" fill-opacity="0.6" stroke="#2b5d8a" stroke-width="0.8"/>
<circle cx="259.4" cy="135.6" r="1.8" fill="#f2f7fa" fill-opacity="0.6" stroke="#2b5d8a" stroke-width="0.8"/>
<circle cx="263.3" cy="135.6" r="1.8" fill="#f2f7fa" fill-opacity="0.6" stroke="#2b5d8a" stroke-width="0.8"/>
<circle cx="267.2" cy="135.6" r="1.8" fill="#f2f7fa" fill-opacity="0.6" stroke="#2b5d8a" stroke-width="0.8"/>
<circle cx="270.7" cy="135.6" r="1.8" fill="#f2f7fa" fill-opacity="0.6" stroke="#2b5d8a" stroke-width="0.8"/>
<circle cx="242.3" cy="137.7" r="1.8" fill="#f2f7fa" fill-opacity="0.6" stroke="#2b5d8a" stroke-width="0.8"/>
<circle cx="246.2" cy="137.7" r="1.8" fill="#f2f7fa" fill-opacity="0.6" stroke="#2b5d8a" stroke-width="0.8"/>
<circle cx="250.2" cy="137.7" r="1.8" fill="#f2f7fa" fill-opacity="0.6" stroke="#2b5d8a" stroke-width="0.8"/>
<circle cx="253.7" cy="137.7" r="1.8" fill="#f2f7fa" fill-opacity="0.6" stroke="#2b5d8a" stroke-width="0.8"/>
<circle cx="257.6" cy="137.7" r="1.8" fill="#f2f7fa" fill-opacity="0.6" stroke="#2b5d8a" stroke-width="0.8"/>
<circle cx="261.1" cy="137.7" r="1.8" fill="#f2f7fa" fill-opacity="0.6" stroke="#2b5d8a" stroke-width="0.8"/>
<circle cx="265.1" cy="137.7" r="1.8" fill="#f2f7fa" fill-opacity="0.6" stroke="#2b5d8a" stroke-width="0.8"/>
<circle cx="269" cy="137.7" r="1.8" fill="#f2f7fa" fill-opacity="0.6" stroke="#2b5d8a" stroke-width="0.8"/>
<circle cx="240.6" cy="140.8" r="1.8" fill="#f2f7fa" fill-opacity="0.6" stroke="#2b5d8a" stroke-width="0.8"/>
<circle cx="244.5" cy="140.8" r="1.8" fill="#f2f7fa" fill-opacity="0.6" stroke="#2b5d8a" stroke-width="0.8"/>
<circle cx="248.4" cy="140.8" r="1.8" fill="#f2f7fa" fill-opacity="0.6" stroke="#2b5d8a" stroke-width="0.8"/>
<circle cx="251.9" cy="140.8" r="1.8" fill="#f2f7fa" fill-opacity="0.6" stroke="#2b5d8a" stroke-width="0.8"/>
<circle cx="259.4" cy="140.8" r="1.8" fill="#f2f7fa" fill-opacity="0.6" stroke="#2b5d8a" stroke-width="0.8"/>
<circle cx="267.2" cy="140.8" r="1.8" fill="#f2f7fa" fill-opacity="0.6" stroke="#2b5d8a" stroke-width="0.8"/>
<circle cx="270.7" cy="140.8" r="1.8" fill="#f2f7fa" fill-opacity="0.6" stroke="#2b5d8a" stroke-width="0.8"/>
<circle cx="240.6" cy="143" r="1.8" fill="#f2f7fa" fill-opacity="0.6" stroke="#2b5d8a" stroke-width="0.8"/>
<circle cx="244.5" cy="143" r="1.8" fill="#f2f7fa" fill-opacity="0.6" stroke="#2b5d8a" stroke-width="0.8"/>
<circle cx="248" cy="143" r="1.8" fill="#f2f7fa" fill-opacity="0.6" stroke="#2b5d8a" stroke-width="0.8"/>
<circle cx="251.9" cy="143" r="1.8" fill="#f2f7fa" fill-opacity="0.6" stroke="#2b5d8a" stroke-width="0.8"/>
<circle cx="255.9" cy="143" r="1.8" fill="#f2f7fa" fill-opacity="0.6" stroke="#2b5d8a" stroke-width="0.8"/>
<circle cx="259.4" cy="143" r="1.8" fill="#f2f7fa" fill-opacity="0.6" stroke="#2b5d8a" stroke-width="0.8"/>
<circle cx="266.8" cy="143" r="1.8" fill="#f2f7fa" fill-opacity="0.6" stroke="#2b5d8a" stroke-width="0.8"/>
<circle cx="270.7" cy="143" r="1.8" fill="#f2f7fa" fill-opacity="0.6" stroke="#2b5d8a" stroke-width="0.8"/>
<circle cx="251.9" cy="145.6" r="1.8" fill="#f2f7fa" fill-opacity="0.6" stroke="#2b5d8a" stroke-width="0.8"/>
<circle cx="255.9" cy="145.6" r="1.8" fill="#f2f7fa" fill-opacity="0.6" stroke="#2b5d8a" stroke-width="0.8"/>
<circle cx="259.4" cy="145.6" r="1.8" fill="#f2f7fa" fill-opacity="0.6" stroke="#2b5d8a" stroke-width="0.8"/>
<circle cx="251.9" cy="148.2" r="1.8" fill="#f2f7fa" fill-opacity="0.6" stroke="#2b5d8a" stroke-width="0.8"/>
<circle cx="255.9" cy="148.2" r="1.8" fill="#f2f7fa" fill-opacity="0.6" stroke="#2b5d8a" stroke-width="0.8"/>
<circle cx="259.4" cy="148.2" r="1.8" fill="#f2f7fa" fill-opacity="0.6" stroke="#2b5d8a" stroke-width="0.8"/>
<circle cx="248" cy="151.3" r="1.8" fill="#f2f7fa" fill-opacity="0.6" stroke="#2b5d8a" stroke-width="0.8"/>
<circle cx="251.9" cy="151.3" r="1.8" fill="#f2f7fa" fill-opacity="0.6" stroke="#2b5d8a" stroke-width="0.8"/>
<circle cx="255.9" cy="151.3" r="1.8" fill="#f2f7fa" fill-opacity="0.6" stroke="#2b5d8a" stroke-width="0.8"/>
<circle cx="259.4" cy="151.3" r="1.8" fill="#f2f7fa" fill-opacity="0.6" stroke="#2b5d8a" stroke-width="0.8"/>
<circle cx="255.9" cy="154.4" r="1.8" fill="#f2f7fa" fill-opacity="0.6" stroke="#2b5d8a" stroke-width="0.8"/>
<circle cx="259.4" cy="154.4" r="1.8" fill="#f2f7fa" fill-opacity="0.6" stroke="#2b5d8a" stroke-width="0.8"/>
<circle cx="240.6" cy="157" r="1.8" fill="#f2f7fa" fill-opacity="0.6" stroke="#2b5d8a" stroke-width="0.8"/>
<circle cx="244.5" cy="157" r="1.8" fill="#f2f7fa" fill-opacity="0.6" stroke="#2b5d8a" stroke-width="0.8"/>
<circle cx="248.4" cy="157" r="1.8" fill="#f2f7fa" fill-opacity="0.6" stroke="#2b5d8a" stroke-width="0.8"/>
<circle cx="263.3" cy="157" r="1.8" fill="#f2f7fa" fill-opacity="0.6" stroke="#2b5d8a" stroke-width="0.8"/>
<circle cx="267.2" cy="157" r="1.8" fill="#f2f7fa" fill-opacity="0.6" stroke="#2b5d8a" stroke-width="0.8"/>
<circle cx="270.7" cy="157" r="1.8" fill="#f2f7fa" fill-opacity="0.6" stroke="#2b5d8a" stroke-width="0.8"/>
<circle cx="246.2" cy="159.4" r="1.8" fill="#f2f7fa" fill-opacity="0.6" stroke="#2b5d8a" stroke-width="0.8"/>
<circle cx="250.2" cy="159.4" r="1.8" fill="#f2f7fa" fill-opacity="0.6" stroke="#2b5d8a" stroke-width="0.8"/>
<circle cx="253.7" cy="159.4" r="1.8" fill="#f2f7fa" fill-opacity="0.6" stroke="#2b5d8a" stroke-width="0.8"/>
<circle cx="257.2" cy="159.4" r="1.8" fill="#f2f7fa" fill-opacity="0.6" stroke="#2b5d8a" stroke-width="0.8"/>
<circle cx="261.1" cy="159.4" r="1.8" fill="#f2f7fa" fill-opacity="0.6" stroke="#2b5d8a" stroke-width="0.8"/>
<circle cx="265.1" cy="159.4" r="1.8" fill="#f2f7fa" fill-opacity="0.6" stroke="#2b5d8a" stroke-width="0.8"/>
<circle cx="269" cy="159.4" r="1.8" fill="#f2f7fa" fill-opacity="0.6" stroke="#2b5d8a" stroke-width="0.8"/>
<circle cx="248" cy="162.0" r="1.8" fill="#f2f7fa" fill-opacity="0.6" stroke="#2b5d8a" stroke-width="0.8"/>
<circle cx="251.9" cy="162.0" r="1.8" fill="#f2f7fa" fill-opacity="0.6" stroke="#2b5d8a" stroke-width="0.8"/>
<circle cx="255.9" cy="162.0" r="1.8" fill="#f2f7fa" fill-opacity="0.6" stroke="#2b5d8a" stroke-width="0.8"/>
<circle cx="259.4" cy="162.0" r="1.8" fill="#f2f7fa" fill-opacity="0.6" stroke="#2b5d8a" stroke-width="0.8"/>
<circle cx="263.3" cy="162.0" r="1.8" fill="#f2f7fa" fill-opacity="0.6" stroke="#2b5d8a" stroke-width="0.8"/>
<circle cx="248" cy="164.7" r="1.8" fill="#f2f7fa" fill-opacity="0.6" stroke="#2b5d8a" stroke-width="0.8"/>
<circle cx="251.9" cy="164.7" r="1.8" fill="#f2f7fa" fill-opacity="0.6" stroke="#2b5d8a" stroke-width="0.8"/>
<circle cx="255.9" cy="164.7" r="1.8" fill="#f2f7fa" fill-opacity="0.6" stroke="#2b5d8a" stroke-width="0.8"/>
<circle cx="259.4" cy="164.7" r="1.8" fill="#f2f7fa" fill-opacity="0.6" stroke="#2b5d8a" stroke-width="0.8"/>
<circle cx="248" cy="167.8" r="1.8" fill="#f2f7fa" fill-opacity="0.6" stroke="#2b5d8a" stroke-width="0.8"/>
<circle cx="251.9" cy="167.8" r="1.8" fill="#f2f7fa" fill-opacity="0.6" stroke="#2b5d8a" stroke-width="0.8"/>
<circle cx="255.9" cy="167.8" r="1.8" fill="#f2f7fa" fill-opacity="0.6" stroke="#2b5d8a" stroke-width="0.8"/>
<circle cx="259.4" cy="167.8" r="1.8" fill="#f2f7fa" fill-opacity="0.6" stroke="#2b5d8a" stroke-width="0.8"/>
<circle cx="263.3" cy="167.8" r="1.8" fill="#f2f7fa" fill-opacity="0.6" stroke="#2b5d8a" stroke-width="0.8"/>
<circle cx="255.9" cy="170" r="1.8" fill="#f2f7fa" fill-opacity="0.6" stroke="#2b5d8a" stroke-width="0.8"/>
<circle cx="255.9" cy="173.1" r="1.8" fill="#f2f7fa" fill-opacity="0.6" stroke="#2b5d8a" stroke-width="0.8"/>
<circle cx="253.7" cy="182.7" r="1.8" fill="#f2f7fa" fill-opacity="0.6" stroke="#2b5d8a" stroke-width="0.8"/>
<circle cx="257.2" cy="182.7" r="1.8" fill="#f2f7fa" fill-opacity="0.6" stroke="#2b5d8a" stroke-width="0.8"/>
<circle cx="305" cy="48" r="1.65" fill="#b80f2c"/>
<circle cx="305" cy="56" r="1.65" fill="#b80f2c"/>
<circle cx="302.8" cy="66.5" r="1.65" fill="#b80f2c"/>
<circle cx="306.9" cy="67.4" r="1.65" fill="#b80f2c"/>
<circle cx="305" cy="78.7" r="1.65" fill="#b80f2c"/>
<circle cx="305" cy="90.7" r="1.65" fill="#b80f2c"/>
<circle cx="302.8" cy="102" r="1.65" fill="#b80f2c"/>
<circle cx="306.9" cy="102.3" r="1.65" fill="#b80f2c"/>
<circle cx="302.8" cy="106.1" r="1.65" fill="#b80f2c"/>
<circle cx="306.9" cy="105.5" r="1.65" fill="#b80f2c"/>
<circle cx="305" cy="109.3" r="1.65" fill="#b80f2c"/>
<circle cx="302.5" cy="116.9" r="1.65" fill="#b80f2c"/>
<circle cx="306.9" cy="116.3" r="1.65" fill="#b80f2c"/>
<circle cx="302.8" cy="129.8" r="1.65" fill="#b80f2c"/>
<circle cx="306.9" cy="130.7" r="1.65" fill="#b80f2c"/>
<circle cx="305" cy="134.6" r="1.65" fill="#b80f2c"/>
<circle cx="308.9" cy="134.6" r="1.65" fill="#b80f2c"/>
<circle cx="297.1" cy="135.9" r="1.65" fill="#b80f2c"/>
<circle cx="312.4" cy="135.5" r="1.65" fill="#b80f2c"/>
<circle cx="297.1" cy="138.6" r="1.65" fill="#b80f2c"/>
<circle cx="301.1" cy="137.7" r="1.65" fill="#b80f2c"/>
<circle cx="305" cy="137.7" r="1.65" fill="#b80f2c"/>
<circle cx="308.9" cy="138.1" r="1.65" fill="#b80f2c"/>
<circle cx="312.4" cy="138.6" r="1.65" fill="#b80f2c"/>
<circle cx="293.2" cy="142.9" r="1.65" fill="#b80f2c"/>
<circle cx="297.1" cy="144.2" r="1.65" fill="#b80f2c"/>
<circle cx="301.1" cy="145.1" r="1.65" fill="#b80f2c"/>
<circle cx="305" cy="142.9" r="1.65" fill="#b80f2c"/>
<circle cx="308.9" cy="143.4" r="1.65" fill="#b80f2c"/>
<circle cx="312.4" cy="144.2" r="1.65" fill="#b80f2c"/>
<circle cx="316.4" cy="141.6" r="1.65" fill="#b80f2c"/>
<circle cx="293.2" cy="146" r="1.65" fill="#b80f2c"/>
<circle cx="316.4" cy="146" r="1.65" fill="#b80f2c"/>
<circle cx="305" cy="146.4" r="1.65" fill="#b80f2c"/>
<circle cx="293.2" cy="148.6" r="1.65" fill="#b80f2c"/>
<circle cx="297.1" cy="148.6" r="1.65" fill="#b80f2c"/>
<circle cx="301.1" cy="148.2" r="1.65" fill="#b80f2c"/>
<circle cx="305" cy="149.9" r="1.65" fill="#b80f2c"/>
<circle cx="308.9" cy="149.1" r="1.65" fill="#b80f2c"/>
<circle cx="316.4" cy="148.6" r="1.65" fill="#b80f2c"/>
<circle cx="301.1" cy="151.2" r="1.65" fill="#b80f2c"/>
<circle cx="293.2" cy="153" r="1.65" fill="#b80f2c"/>
<circle cx="316.4" cy="153.4" r="1.65" fill="#b80f2c"/>
<circle cx="297.1" cy="155.3" r="1.65" fill="#b80f2c"/>
<circle cx="301.1" cy="154.9" r="1.65" fill="#b80f2c"/>
<circle cx="305" cy="156.6" r="1.65" fill="#b80f2c"/>
<circle cx="308.9" cy="155.3" r="1.65" fill="#b80f2c"/>
<circle cx="312.4" cy="154.9" r="1.65" fill="#b80f2c"/>
<circle cx="316.4" cy="154.4" r="1.65" fill="#b80f2c"/>
<circle cx="297.1" cy="158.8" r="1.65" fill="#b80f2c"/>
<circle cx="301.1" cy="158.8" r="1.65" fill="#b80f2c"/>
<circle cx="305" cy="160.1" r="1.65" fill="#b80f2c"/>
<circle cx="308.9" cy="159.2" r="1.65" fill="#b80f2c"/>
<circle cx="312.4" cy="157.9" r="1.65" fill="#b80f2c"/>
<circle cx="297.1" cy="162.7" r="1.65" fill="#b80f2c"/>
<circle cx="289.2" cy="164.1" r="1.65" fill="#b80f2c"/>
<circle cx="293.2" cy="164.9" r="1.65" fill="#b80f2c"/>
<circle cx="301.1" cy="164.9" r="1.65" fill="#b80f2c"/>
<circle cx="305" cy="164.5" r="1.65" fill="#b80f2c"/>
<circle cx="308.9" cy="164.5" r="1.65" fill="#b80f2c"/>
<circle cx="312.4" cy="165.4" r="1.65" fill="#b80f2c"/>
<circle cx="316.4" cy="163.6" r="1.65" fill="#b80f2c"/>
<circle cx="319.9" cy="164.1" r="1.65" fill="#b80f2c"/>
<circle cx="293.2" cy="168.4" r="1.65" fill="#b80f2c"/>
<circle cx="297.1" cy="169.7" r="1.65" fill="#b80f2c"/>
<circle cx="301.1" cy="168.4" r="1.65" fill="#b80f2c"/>
<circle cx="305" cy="167.6" r="1.65" fill="#b80f2c"/>
<circle cx="308.9" cy="167.1" r="1.65" fill="#b80f2c"/>
<circle cx="312.4" cy="168.4" r="1.65" fill="#b80f2c"/>
<circle cx="316.4" cy="168.4" r="1.65" fill="#b80f2c"/>
<circle cx="301.1" cy="171.5" r="1.65" fill="#b80f2c"/>
<circle cx="305" cy="171.1" r="1.65" fill="#b80f2c"/>
<circle cx="308.9" cy="170.2" r="1.65" fill="#b80f2c"/>
<circle cx="301.1" cy="174.6" r="1.65" fill="#b80f2c"/>
<circle cx="305" cy="174.1" r="1.65" fill="#b80f2c"/>
<circle cx="308.9" cy="175" r="1.65" fill="#b80f2c"/>
<circle cx="297.1" cy="177.6" r="1.65" fill="#b80f2c"/>
<circle cx="308.9" cy="178.1" r="1.65" fill="#b80f2c"/>
<circle cx="312.4" cy="177.2" r="1.65" fill="#b80f2c"/>
<circle cx="305" cy="179.4" r="1.65" fill="#b80f2c"/>
<circle cx="305" cy="182.9" r="1.65" fill="#b80f2c"/>
<line x1="305.1" y1="136.9" x2="305.1" y2="164.8" stroke="#1e1e1e" stroke-width="1"/>
<line x1="297.6" y1="136.9" x2="312.6" y2="136.9" stroke="#1e1e1e" stroke-width="1"/>
<line x1="297.6" y1="164.8" x2="312.6" y2="164.8" stroke="#1e1e1e" stroke-width="1"/>
<line x1="239.6" y1="138.6" x2="271.6" y2="138.6" stroke="#141414" stroke-width="1.35"/>
<line x1="289.1" y1="152.2" x2="321.1" y2="152.2" stroke="#141414" stroke-width="1.35"/>
<line x1="430.6" y1="124.5" x2="430.6" y2="163" stroke="#1e1e1e" stroke-width="1"/>
<line x1="423.1" y1="124.5" x2="438.1" y2="124.5" stroke="#1e1e1e" stroke-width="1"/>
<line x1="423.1" y1="163" x2="438.1" y2="163" stroke="#1e1e1e" stroke-width="1"/>
<circle cx="430.7" cy="41.1" r="1.8" fill="#f2f7fa" fill-opacity="0.6" stroke="#2b5d8a" stroke-width="0.8"/>
<circle cx="430.7" cy="54.4" r="1.8" fill="#f2f7fa" fill-opacity="0.6" stroke="#2b5d8a" stroke-width="0.8"/>
<circle cx="430.7" cy="61.5" r="1.8" fill="#f2f7fa" fill-opacity="0.6" stroke="#2b5d8a" stroke-width="0.8"/>
<circle cx="430.7" cy="66.8" r="1.8" fill="#f2f7fa" fill-opacity="0.6" stroke="#2b5d8a" stroke-width="0.8"/>
<circle cx="427.8" cy="83.2" r="1.8" fill="#f2f7fa" fill-opacity="0.6" stroke="#2b5d8a" stroke-width="0.8"/>
<circle cx="433.1" cy="82.6" r="1.8" fill="#f2f7fa" fill-opacity="0.6" stroke="#2b5d8a" stroke-width="0.8"/>
<circle cx="430.7" cy="88.7" r="1.8" fill="#f2f7fa" fill-opacity="0.6" stroke="#2b5d8a" stroke-width="0.8"/>
<circle cx="430.9" cy="99.8" r="1.8" fill="#f2f7fa" fill-opacity="0.6" stroke="#2b5d8a" stroke-width="0.8"/>
<circle cx="427.8" cy="103.7" r="1.8" fill="#f2f7fa" fill-opacity="0.6" stroke="#2b5d8a" stroke-width="0.8"/>
<circle cx="433.5" cy="105.5" r="1.8" fill="#f2f7fa" fill-opacity="0.6" stroke="#2b5d8a" stroke-width="0.8"/>
<circle cx="427.8" cy="110.7" r="1.8" fill="#f2f7fa" fill-opacity="0.6" stroke="#2b5d8a" stroke-width="0.8"/>
<circle cx="433.3" cy="109.9" r="1.8" fill="#f2f7fa" fill-opacity="0.6" stroke="#2b5d8a" stroke-width="0.8"/>
<circle cx="427.9" cy="116.4" r="1.8" fill="#f2f7fa" fill-opacity="0.6" stroke="#2b5d8a" stroke-width="0.8"/>
<circle cx="433.1" cy="116.4" r="1.8" fill="#f2f7fa" fill-opacity="0.6" stroke="#2b5d8a" stroke-width="0.8"/>
<circle cx="430.5" cy="120.3" r="1.8" fill="#f2f7fa" fill-opacity="0.6" stroke="#2b5d8a" stroke-width="0.8"/>
<circle cx="427.9" cy="126.1" r="1.8" fill="#f2f7fa" fill-opacity="0.6" stroke="#2b5d8a" stroke-width="0.8"/>
<circle cx="433.1" cy="127.6" r="1.8" fill="#f2f7fa" fill-opacity="0.6" stroke="#2b5d8a" stroke-width="0.8"/>
<circle cx="417.5" cy="132.8" r="1.8" fill="#f2f7fa" fill-opacity="0.6" stroke="#2b5d8a" stroke-width="0.8"/>
<circle cx="417.5" cy="136.2" r="1.8" fill="#f2f7fa" fill-opacity="0.6" stroke="#2b5d8a" stroke-width="0.8"/>
<circle cx="422.7" cy="135.4" r="1.8" fill="#f2f7fa" fill-opacity="0.6" stroke="#2b5d8a" stroke-width="0.8"/>
<circle cx="427.9" cy="133.4" r="1.8" fill="#f2f7fa" fill-opacity="0.6" stroke="#2b5d8a" stroke-width="0.8"/>
<circle cx="427.9" cy="137.5" r="1.8" fill="#f2f7fa" fill-opacity="0.6" stroke="#2b5d8a" stroke-width="0.8"/>
<circle cx="433.1" cy="137.2" r="1.8" fill="#f2f7fa" fill-opacity="0.6" stroke="#2b5d8a" stroke-width="0.8"/>
<circle cx="438.3" cy="135.75" r="1.8" fill="#f2f7fa" fill-opacity="0.6" stroke="#2b5d8a" stroke-width="0.8"/>
<circle cx="443.5" cy="136" r="1.8" fill="#f2f7fa" fill-opacity="0.6" stroke="#2b5d8a" stroke-width="0.8"/>
<circle cx="422.7" cy="142.2" r="1.8" fill="#f2f7fa" fill-opacity="0.6" stroke="#2b5d8a" stroke-width="0.8"/>
<circle cx="443.5" cy="142.2" r="1.8" fill="#f2f7fa" fill-opacity="0.6" stroke="#2b5d8a" stroke-width="0.8"/>
<circle cx="417.5" cy="146.9" r="1.8" fill="#f2f7fa" fill-opacity="0.6" stroke="#2b5d8a" stroke-width="0.8"/>
<circle cx="422.7" cy="145.5" r="1.8" fill="#f2f7fa" fill-opacity="0.6" stroke="#2b5d8a" stroke-width="0.8"/>
<circle cx="427.9" cy="145.9" r="1.8" fill="#f2f7fa" fill-opacity="0.6" stroke="#2b5d8a" stroke-width="0.8"/>
<circle cx="433.1" cy="145.1" r="1.8" fill="#f2f7fa" fill-opacity="0.6" stroke="#2b5d8a" stroke-width="0.8"/>
<circle cx="438.3" cy="146.4" r="1.8" fill="#f2f7fa" fill-opacity="0.6" stroke="#2b5d8a" stroke-width="0.8"/>
<circle cx="443.5" cy="145.9" r="1.8" fill="#f2f7fa" fill-opacity="0.6" stroke="#2b5d8a" stroke-width="0.8"/>
<circle cx="422.7" cy="150" r="1.8" fill="#f2f7fa" fill-opacity="0.6" stroke="#2b5d8a" stroke-width="0.8"/>
<circle cx="427.9" cy="149" r="1.8" fill="#f2f7fa" fill-opacity="0.6" stroke="#2b5d8a" stroke-width="0.8"/>
<circle cx="433.1" cy="150" r="1.8" fill="#f2f7fa" fill-opacity="0.6" stroke="#2b5d8a" stroke-width="0.8"/>
<circle cx="438.3" cy="149.5" r="1.8" fill="#f2f7fa" fill-opacity="0.6" stroke="#2b5d8a" stroke-width="0.8"/>
<circle cx="427.9" cy="152.1" r="1.8" fill="#f2f7fa" fill-opacity="0.6" stroke="#2b5d8a" stroke-width="0.8"/>
<circle cx="422.7" cy="154.7" r="1.8" fill="#f2f7fa" fill-opacity="0.6" stroke="#2b5d8a" stroke-width="0.8"/>
<circle cx="427.9" cy="155.7" r="1.8" fill="#f2f7fa" fill-opacity="0.6" stroke="#2b5d8a" stroke-width="0.8"/>
<circle cx="433.1" cy="156.25" r="1.8" fill="#f2f7fa" fill-opacity="0.6" stroke="#2b5d8a" stroke-width="0.8"/>
<circle cx="438.3" cy="154.2" r="1.8" fill="#f2f7fa" fill-opacity="0.6" stroke="#2b5d8a" stroke-width="0.8"/>
<circle cx="438.3" cy="157.3" r="1.8" fill="#f2f7fa" fill-opacity="0.6" stroke="#2b5d8a" stroke-width="0.8"/>
<circle cx="427.9" cy="159.4" r="1.8" fill="#f2f7fa" fill-opacity="0.6" stroke="#2b5d8a" stroke-width="0.8"/>
<circle cx="422.7" cy="161.5" r="1.8" fill="#f2f7fa" fill-opacity="0.6" stroke="#2b5d8a" stroke-width="0.8"/>
<circle cx="427.9" cy="162" r="1.8" fill="#f2f7fa" fill-opacity="0.6" stroke="#2b5d8a" stroke-width="0.8"/>
<circle cx="433.1" cy="162.5" r="1.8" fill="#f2f7fa" fill-opacity="0.6" stroke="#2b5d8a" stroke-width="0.8"/>
<circle cx="438.3" cy="161.5" r="1.8" fill="#f2f7fa" fill-opacity="0.6" stroke="#2b5d8a" stroke-width="0.8"/>
<circle cx="433.1" cy="166.7" r="1.8" fill="#f2f7fa" fill-opacity="0.6" stroke="#2b5d8a" stroke-width="0.8"/>
<circle cx="422.7" cy="168.5" r="1.8" fill="#f2f7fa" fill-opacity="0.6" stroke="#2b5d8a" stroke-width="0.8"/>
<circle cx="427.9" cy="168.75" r="1.8" fill="#f2f7fa" fill-opacity="0.6" stroke="#2b5d8a" stroke-width="0.8"/>
<circle cx="438.3" cy="168.2" r="1.8" fill="#f2f7fa" fill-opacity="0.6" stroke="#2b5d8a" stroke-width="0.8"/>
<circle cx="427.9" cy="171.9" r="1.8" fill="#f2f7fa" fill-opacity="0.6" stroke="#2b5d8a" stroke-width="0.8"/>
<circle cx="433.1" cy="170.3" r="1.8" fill="#f2f7fa" fill-opacity="0.6" stroke="#2b5d8a" stroke-width="0.8"/>
<circle cx="422.7" cy="174" r="1.8" fill="#f2f7fa" fill-opacity="0.6" stroke="#2b5d8a" stroke-width="0.8"/>
<circle cx="422.7" cy="176.9" r="1.8" fill="#f2f7fa" fill-opacity="0.6" stroke="#2b5d8a" stroke-width="0.8"/>
<circle cx="427.9" cy="177.6" r="1.8" fill="#f2f7fa" fill-opacity="0.6" stroke="#2b5d8a" stroke-width="0.8"/>
<circle cx="433.1" cy="175.5" r="1.8" fill="#f2f7fa" fill-opacity="0.6" stroke="#2b5d8a" stroke-width="0.8"/>
<circle cx="433.1" cy="178.1" r="1.8" fill="#f2f7fa" fill-opacity="0.6" stroke="#2b5d8a" stroke-width="0.8"/>
<circle cx="438.3" cy="175.5" r="1.8" fill="#f2f7fa" fill-opacity="0.6" stroke="#2b5d8a" stroke-width="0.8"/>
<circle cx="443.5" cy="175.8" r="1.8" fill="#f2f7fa" fill-opacity="0.6" stroke="#2b5d8a" stroke-width="0.8"/>
<circle cx="433.1" cy="180.2" r="1.8" fill="#f2f7fa" fill-opacity="0.6" stroke="#2b5d8a" stroke-width="0.8"/>
<circle cx="430.5" cy="188.5" r="1.8" fill="#f2f7fa" fill-opacity="0.6" stroke="#2b5d8a" stroke-width="0.8"/>
<circle cx="479.8" cy="61.25" r="1.65" fill="#b80f2c"/>
<circle cx="479.8" cy="83.1" r="1.65" fill="#b80f2c"/>
<circle cx="477.2" cy="92" r="1.65" fill="#b80f2c"/>
<circle cx="482.3" cy="90.6" r="1.65" fill="#b80f2c"/>
<circle cx="485" cy="108.5" r="1.65" fill="#b80f2c"/>
<circle cx="479.8" cy="110.4" r="1.65" fill="#b80f2c"/>
<circle cx="474.8" cy="113.3" r="1.65" fill="#b80f2c"/>
<circle cx="479.8" cy="115.6" r="1.65" fill="#b80f2c"/>
<circle cx="485" cy="121.4" r="1.65" fill="#b80f2c"/>
<circle cx="479.8" cy="123.4" r="1.65" fill="#b80f2c"/>
<circle cx="479.8" cy="128.1" r="1.65" fill="#b80f2c"/>
<circle cx="474.8" cy="133.3" r="1.65" fill="#b80f2c"/>
<circle cx="479.8" cy="134.9" r="1.65" fill="#b80f2c"/>
<circle cx="485" cy="135.9" r="1.65" fill="#b80f2c"/>
<circle cx="474.8" cy="140.4" r="1.65" fill="#b80f2c"/>
<circle cx="479.8" cy="141.7" r="1.65" fill="#b80f2c"/>
<circle cx="485" cy="140.8" r="1.65" fill="#b80f2c"/>
<circle cx="474.8" cy="149.7" r="1.65" fill="#b80f2c"/>
<circle cx="485" cy="149.4" r="1.65" fill="#b80f2c"/>
<circle cx="469.6" cy="152.3" r="1.65" fill="#b80f2c"/>
<circle cx="489.9" cy="151.8" r="1.65" fill="#b80f2c"/>
<circle cx="474.8" cy="154.4" r="1.65" fill="#b80f2c"/>
<circle cx="479.8" cy="154.6" r="1.65" fill="#b80f2c"/>
<circle cx="469.6" cy="158.3" r="1.65" fill="#b80f2c"/>
<circle cx="474.8" cy="159.6" r="1.65" fill="#b80f2c"/>
<circle cx="479.8" cy="159.6" r="1.65" fill="#b80f2c"/>
<circle cx="469.6" cy="161.7" r="1.65" fill="#b80f2c"/>
<circle cx="474.8" cy="162.2" r="1.65" fill="#b80f2c"/>
<circle cx="485" cy="162.2" r="1.65" fill="#b80f2c"/>
<circle cx="489.9" cy="161.7" r="1.65" fill="#b80f2c"/>
<circle cx="474.8" cy="165.3" r="1.65" fill="#b80f2c"/>
<circle cx="485" cy="165.8" r="1.65" fill="#b80f2c"/>
<circle cx="469.6" cy="167.1" r="1.65" fill="#b80f2c"/>
<circle cx="474.8" cy="167.9" r="1.65" fill="#b80f2c"/>
<circle cx="485" cy="168.4" r="1.65" fill="#b80f2c"/>
<circle cx="495.1" cy="167.4" r="1.65" fill="#b80f2c"/>
<circle cx="464.9" cy="170.2" r="1.65" fill="#b80f2c"/>
<circle cx="469.6" cy="171.6" r="1.65" fill="#b80f2c"/>
<circle cx="474.8" cy="171.6" r="1.65" fill="#b80f2c"/>
<circle cx="479.8" cy="171.9" r="1.65" fill="#b80f2c"/>
<circle cx="485" cy="171" r="1.65" fill="#b80f2c"/>
<circle cx="489.9" cy="170" r="1.65" fill="#b80f2c"/>
<circle cx="495.1" cy="170.5" r="1.65" fill="#b80f2c"/>
<circle cx="469.6" cy="174.7" r="1.65" fill="#b80f2c"/>
<circle cx="474.8" cy="175.2" r="1.65" fill="#b80f2c"/>
<circle cx="485" cy="174.7" r="1.65" fill="#b80f2c"/>
<circle cx="489.9" cy="173.1" r="1.65" fill="#b80f2c"/>
<circle cx="489.9" cy="175.7" r="1.65" fill="#b80f2c"/>
<circle cx="469.6" cy="178.3" r="1.65" fill="#b80f2c"/>
<circle cx="464.9" cy="179.4" r="1.65" fill="#b80f2c"/>
<circle cx="474.8" cy="178.1" r="1.65" fill="#b80f2c"/>
<circle cx="479.8" cy="180.2" r="1.65" fill="#b80f2c"/>
<circle cx="485" cy="177.5" r="1.65" fill="#b80f2c"/>
<circle cx="489.9" cy="179.4" r="1.65" fill="#b80f2c"/>
<circle cx="495.1" cy="178.1" r="1.65" fill="#b80f2c"/>
<circle cx="474.8" cy="183.5" r="1.65" fill="#b80f2c"/>
<circle cx="469.6" cy="186.7" r="1.65" fill="#b80f2c"/>
<circle cx="479.8" cy="185.6" r="1.65" fill="#b80f2c"/>
<circle cx="485" cy="185.1" r="1.65" fill="#b80f2c"/>
<circle cx="489.9" cy="187.7" r="1.65" fill="#b80f2c"/>
<line x1="480" y1="139.4" x2="480" y2="174" stroke="#1e1e1e" stroke-width="1"/>
<line x1="472.5" y1="139.4" x2="487.5" y2="139.4" stroke="#1e1e1e" stroke-width="1"/>
<line x1="472.5" y1="174" x2="487.5" y2="174" stroke="#1e1e1e" stroke-width="1"/>
<line x1="414.6" y1="145.5" x2="446.6" y2="145.5" stroke="#141414" stroke-width="1.35"/>
<line x1="464" y1="162.9" x2="496" y2="162.9" stroke="#141414" stroke-width="1.35"/>
<line x1="79.9" y1="362" x2="79.9" y2="391.5" stroke="#1e1e1e" stroke-width="1"/>
<line x1="72.4" y1="362" x2="87.4" y2="362" stroke="#1e1e1e" stroke-width="1"/>
<line x1="72.4" y1="391.5" x2="87.4" y2="391.5" stroke="#1e1e1e" stroke-width="1"/>
<circle cx="79.8" cy="300.4" r="1.8" fill="#f2f7fa" fill-opacity="0.6" stroke="#2b5d8a" stroke-width="0.8"/>
<circle cx="79.8" cy="308.9" r="1.8" fill="#f2f7fa" fill-opacity="0.6" stroke="#2b5d8a" stroke-width="0.8"/>
<circle cx="79.8" cy="314.8" r="1.8" fill="#f2f7fa" fill-opacity="0.6" stroke="#2b5d8a" stroke-width="0.8"/>
<circle cx="79.8" cy="320.3" r="1.8" fill="#f2f7fa" fill-opacity="0.6" stroke="#2b5d8a" stroke-width="0.8"/>
<circle cx="79.8" cy="324.4" r="1.8" fill="#f2f7fa" fill-opacity="0.6" stroke="#2b5d8a" stroke-width="0.8"/>
<circle cx="76.5" cy="329.1" r="1.8" fill="#f2f7fa" fill-opacity="0.6" stroke="#2b5d8a" stroke-width="0.8"/>
<circle cx="79.8" cy="328.8" r="1.8" fill="#f2f7fa" fill-opacity="0.6" stroke="#2b5d8a" stroke-width="0.8"/>
<circle cx="83.3" cy="327.9" r="1.8" fill="#f2f7fa" fill-opacity="0.6" stroke="#2b5d8a" stroke-width="0.8"/>
<circle cx="79.8" cy="337.3" r="1.8" fill="#f2f7fa" fill-opacity="0.6" stroke="#2b5d8a" stroke-width="0.8"/>
<circle cx="76.5" cy="339.7" r="1.8" fill="#f2f7fa" fill-opacity="0.6" stroke="#2b5d8a" stroke-width="0.8"/>
<circle cx="83.1" cy="339.7" r="1.8" fill="#f2f7fa" fill-opacity="0.6" stroke="#2b5d8a" stroke-width="0.8"/>
<circle cx="83.1" cy="342.7" r="1.8" fill="#f2f7fa" fill-opacity="0.6" stroke="#2b5d8a" stroke-width="0.8"/>
<circle cx="76.5" cy="344.3" r="1.8" fill="#f2f7fa" fill-opacity="0.6" stroke="#2b5d8a" stroke-width="0.8"/>
<circle cx="79.8" cy="344.9" r="1.8" fill="#f2f7fa" fill-opacity="0.6" stroke="#2b5d8a" stroke-width="0.8"/>
<circle cx="83.1" cy="346.1" r="1.8" fill="#f2f7fa" fill-opacity="0.6" stroke="#2b5d8a" stroke-width="0.8"/>
<circle cx="70.8" cy="353" r="1.8" fill="#f2f7fa" fill-opacity="0.6" stroke="#2b5d8a" stroke-width="0.8"/>
<circle cx="73.8" cy="353" r="1.8" fill="#f2f7fa" fill-opacity="0.6" stroke="#2b5d8a" stroke-width="0.8"/>
<circle cx="76.9" cy="353" r="1.8" fill="#f2f7fa" fill-opacity="0.6" stroke="#2b5d8a" stroke-width="0.8"/>
<circle cx="80" cy="353" r="1.8" fill="#f2f7fa" fill-opacity="0.6" stroke="#2b5d8a" stroke-width="0.8"/>
<circle cx="83.1" cy="353" r="1.8" fill="#f2f7fa" fill-opacity="0.6" stroke="#2b5d8a" stroke-width="0.8"/>
<circle cx="86.2" cy="353" r="1.8" fill="#f2f7fa" fill-opacity="0.6" stroke="#2b5d8a" stroke-width="0.8"/>
<circle cx="91.5" cy="353" r="1.8" fill="#f2f7fa" fill-opacity="0.6" stroke="#2b5d8a" stroke-width="0.8"/>
<circle cx="70.8" cy="355.3" r="1.8" fill="#f2f7fa" fill-opacity="0.6" stroke="#2b5d8a" stroke-width="0.8"/>
<circle cx="73.8" cy="355.3" r="1.8" fill="#f2f7fa" fill-opacity="0.6" stroke="#2b5d8a" stroke-width="0.8"/>
<circle cx="89.2" cy="355.3" r="1.8" fill="#f2f7fa" fill-opacity="0.6" stroke="#2b5d8a" stroke-width="0.8"/>
<circle cx="70.8" cy="357.6" r="1.8" fill="#f2f7fa" fill-opacity="0.6" stroke="#2b5d8a" stroke-width="0.8"/>
<circle cx="80" cy="357.6" r="1.8" fill="#f2f7fa" fill-opacity="0.6" stroke="#2b5d8a" stroke-width="0.8"/>
<circle cx="83.1" cy="357.6" r="1.8" fill="#f2f7fa" fill-opacity="0.6" stroke="#2b5d8a" stroke-width="0.8"/>
<circle cx="67.7" cy="360.7" r="1.8" fill="#f2f7fa" fill-opacity="0.6" stroke="#2b5d8a" stroke-width="0.8"/>
<circle cx="70.8" cy="360.7" r="1.8" fill="#f2f7fa" fill-opacity="0.6" stroke="#2b5d8a" stroke-width="0.8"/>
<circle cx="76.9" cy="360.7" r="1.8" fill="#f2f7fa" fill-opacity="0.6" stroke="#2b5d8a" stroke-width="0.8"/>
<circle cx="80" cy="360.7" r="1.8" fill="#f2f7fa" fill-opacity="0.6" stroke="#2b5d8a" stroke-width="0.8"/>
<circle cx="83.1" cy="360.7" r="1.8" fill="#f2f7fa" fill-opacity="0.6" stroke="#2b5d8a" stroke-width="0.8"/>
<circle cx="86.2" cy="360.7" r="1.8" fill="#f2f7fa" fill-opacity="0.6" stroke="#2b5d8a" stroke-width="0.8"/>
<circle cx="89.2" cy="360.7" r="1.8" fill="#f2f7fa" fill-opacity="0.6" stroke="#2b5d8a" stroke-width="0.8"/>
<circle cx="70.8" cy="362.6" r="1.8" fill="#f2f7fa" fill-opacity="0.6" stroke="#2b5d8a" stroke-width="0.8"/>
<circle cx="86.2" cy="362.6" r="1.8" fill="#f2f7fa" fill-opacity="0.6" stroke="#2b5d8a" stroke-width="0.8"/>
<circle cx="89.2" cy="362.6" r="1.8" fill="#f2f7fa" fill-opacity="0.6" stroke="#2b5d8a" stroke-width="0.8"/>
<circle cx="70.8" cy="364.5" r="1.8" fill="#f2f7fa" fill-opacity="0.6" stroke="#2b5d8a" stroke-width="0.8"/>
<circle cx="73.8" cy="364.5" r="1.8" fill="#f2f7fa" fill-opacity="0.6" stroke="#2b5d8a" stroke-width="0.8"/>
<circle cx="80" cy="364.5" r="1.8" fill="#f2f7fa" fill-opacity="0.6" stroke="#2b5d8a" stroke-width="0.8"/>
<circle cx="83.1" cy="364.5" r="1.8" fill="#f2f7fa" fill-opacity="0.6" stroke="#2b5d8a" stroke-width="0.8"/>
<circle cx="86.2" cy="364.5" r="1.8" fill="#f2f7fa" fill-opacity="0.6" stroke="#2b5d8a" stroke-width="0.8"/>
<circle cx="80" cy="366.8" r="1.8" fill="#f2f7fa" fill-opacity="0.6" stroke="#2b5d8a" stroke-width="0.8"/>
<circle cx="83.1" cy="366.8" r="1.8" fill="#f2f7fa" fill-opacity="0.6" stroke="#2b5d8a" stroke-width="0.8"/>
<circle cx="86.2" cy="366.8" r="1.8" fill="#f2f7fa" fill-opacity="0.6" stroke="#2b5d8a" stroke-width="0.8"/>
<circle cx="89.2" cy="366.8" r="1.8" fill="#f2f7fa" fill-opacity="0.6" stroke="#2b5d8a" stroke-width="0.8"/>
<circle cx="79.2" cy="369.2" r="1.8" fill="#f2f7fa" fill-opacity="0.6" stroke="#2b5d8a" stroke-width="0.8"/>
<circle cx="73.5" cy="371.1" r="1.8" fill="#f2f7fa" fill-opacity="0.6" stroke="#2b5d8a" stroke-width="0.8"/>
<circle cx="76.5" cy="371.1" r="1.8" fill="#f2f7fa" fill-opacity="0.6" stroke="#2b5d8a" stroke-width="0.8"/>
<circle cx="80" cy="371.1" r="1.8" fill="#f2f7fa" fill-opacity="0.6" stroke="#2b5d8a" stroke-width="0.8"/>
<circle cx="83.1" cy="371.1" r="1.8" fill="#f2f7fa" fill-opacity="0.6" stroke="#2b5d8a" stroke-width="0.8"/>
<circle cx="86.2" cy="371.1" r="1.8" fill="#f2f7fa" fill-opacity="0.6" stroke="#2b5d8a" stroke-width="0.8"/>
<circle cx="73.5" cy="373.4" r="1.8" fill="#f2f7fa" fill-opacity="0.6" stroke="#2b5d8a" stroke-width="0.8"/>
<circle cx="76.5" cy="373.4" r="1.8" fill="#f2f7fa" fill-opacity="0.6" stroke="#2b5d8a" stroke-width="0.8"/>
<circle cx="80" cy="373.4" r="1.8" fill="#f2f7fa" fill-opacity="0.6" stroke="#2b5d8a" stroke-width="0.8"/>
<circle cx="83.1" cy="373.4" r="1.8" fill="#f2f7fa" fill-opacity="0.6" stroke="#2b5d8a" stroke-width="0.8"/>
<circle cx="86.2" cy="373.4" r="1.8" fill="#f2f7fa" fill-opacity="0.6" stroke="#2b5d8a" stroke-width="0.8"/>
<circle cx="67.3" cy="375.7" r="1.8" fill="#f2f7fa" fill-opacity="0.6" stroke="#2b5d8a" stroke-width="0.8"/>
<circle cx="73.5" cy="375.7" r="1.8" fill="#f2f7fa" fill-opacity="0.6" stroke="#2b5d8a" stroke-width="0.8"/>
<circle cx="76.5" cy="375.7" r="1.8" fill="#f2f7fa" fill-opacity="0.6" stroke="#2b5d8a" stroke-width="0.8"/>
<circle cx="80" cy="375.7" r="1.8" fill="#f2f7fa" fill-opacity="0.6" stroke="#2b5d8a" stroke-width="0.8"/>
<circle cx="83.1" cy="375.7" r="1.8" fill="#f2f7fa" fill-opacity="0.6" stroke="#2b5d8a" stroke-width="0.8"/>
<circle cx="86.2" cy="375.7" r="1.8" fill="#f2f7fa" fill-opacity="0.6" stroke="#2b5d8a" stroke-width="0.8"/>
<circle cx="89.2" cy="375.7" r="1.8" fill="#f2f7fa" fill-opacity="0.6" stroke="#2b5d8a" stroke-width="0.8"/>
<circle cx="91.9" cy="375.7" r="1.8" fill="#f2f7fa" fill-opacity="0.6" stroke="#2b5d8a" stroke-width="0.8"/>
<circle cx="67.3" cy="379.2" r="1.8" fill="#f2f7fa" fill-opacity="0.6" stroke="#2b5d8a" stroke-width="0.8"/>
<circle cx="70.4" cy="379.2" r="1.8" fill="#f2f7fa" fill-opacity="0.6" stroke="#2b5d8a" stroke-width="0.8"/>
<circle cx="73.5" cy="379.2" r="1.8" fill="#f2f7fa" fill-opacity="0.6" stroke="#2b5d8a" stroke-width="0.8"/>
<circle cx="76.5" cy="379.2" r="1.8" fill="#f2f7fa" fill-opacity="0.6" stroke="#2b5d8a" stroke-width="0.8"/>
<circle cx="80" cy="379.2" r="1.8" fill="#f2f7fa" fill-opacity="0.6" stroke="#2b5d8a" stroke-width="0.8"/>
<circle cx="83.1" cy="379.2" r="1.8" fill="#f2f7fa" fill-opacity="0.6" stroke="#2b5d8a" stroke-width="0.8"/>
<circle cx="86.2" cy="379.2" r="1.8" fill="#f2f7fa" fill-opacity="0.6" stroke="#2b5d8a" stroke-width="0.8"/>
<circle cx="89.2" cy="379.2" r="1.8" fill="#f2f7fa" fill-opacity="0.6" stroke="#2b5d8a" stroke-width="0.8"/>
<circle cx="92.3" cy="379.2" r="1.8" fill="#f2f7fa" fill-opacity="0.6" stroke="#2b5d8a" stroke-width="0.8"/>
<circle cx="64.2" cy="381.5" r="1.8" fill="#f2f7fa" fill-opacity="0.6" stroke="#2b5d8a" stroke-width="0.8"/>
<circle cx="67.3" cy="381.5" r="1.8" fill="#f2f7fa" fill-opacity="0.6" stroke="#2b5d8a" stroke-width="0.8"/>
<circle cx="70.4" cy="381.5" r="1.8" fill="#f2f7fa" fill-opacity="0.6" stroke="#2b5d8a" stroke-width="0.8"/>
<circle cx="73.5" cy="381.5" r="1.8" fill="#f2f7fa" fill-opacity="0.6" stroke="#2b5d8a" stroke-width="0.8"/>
<circle cx="76.5" cy="381.5" r="1.8" fill="#f2f7fa" fill-opacity="0.6" stroke="#2b5d8a" stroke-width="0.8"/>
<circle cx="80" cy="381.5" r="1.8" fill="#f2f7fa" fill-opacity="0.6" stroke="#2b5d8a" stroke-width="0.8"/>
<circle cx="83.1" cy="381.5" r="1.8" fill="#f2f7fa" fill-opacity="0.6" stroke="#2b5d8a" stroke-width="0.8"/>
<circle cx="86.2" cy="381.5" r="1.8" fill="#f2f7fa" fill-opacity="0.6" stroke="#2b5d8a" stroke-width="0.8"/>
<circle cx="89.2" cy="381.5" r="1.8" fill="#f2f7fa" fill-opacity="0.6" stroke="#2b5d8a" stroke-width="0.8"/>
<circle cx="92.3" cy="381.5" r="1.8" fill="#f2f7fa" fill-opacity="0.6" stroke="#2b5d8a" stroke-width="0.8"/>
<circle cx="95" cy="381.5" r="1.8" fill="#f2f7fa" fill-opacity="0.6" stroke="#2b5d8a" stroke-width="0.8"/>
<circle cx="67.3" cy="383.8" r="1.8" fill="#f2f7fa" fill-opacity="0.6" stroke="#2b5d8a" stroke-width="0.8"/>
<circle cx="70.4" cy="383.8" r="1.8" fill="#f2f7fa" fill-opacity="0.6" stroke="#2b5d8a" stroke-width="0.8"/>
<circle cx="73.5" cy="383.8" r="1.8" fill="#f2f7fa" fill-opacity="0.6" stroke="#2b5d8a" stroke-width="0.8"/>
<circle cx="76.5" cy="383.8" r="1.8" fill="#f2f7fa" fill-opacity="0.6" stroke="#2b5d8a" stroke-width="0.8"/>
<circle cx="83.1" cy="383.8" r="1.8" fill="#f2f7fa" fill-opacity="0.6" stroke="#2b5d8a" stroke-width="0.8"/>
<circle cx="86.2" cy="383.8" r="1.8" fill="#f2f7fa" fill-opacity="0.6" stroke="#2b5d8a" stroke-width="0.8"/>
<circle cx="89.2" cy="383.8" r="1.8" fill="#f2f7fa" fill-opacity="0.6" stroke="#2b5d8a" stroke-width="0.8"/>
<circle cx="92.3" cy="383.8" r="1.8" fill="#f2f7fa" fill-opacity="0.6" stroke="#2b5d8a" stroke-width="0.8"/>
<circle cx="67.3" cy="386.1" r="1.8" fill="#f2f7fa" fill-opacity="0.6" stroke="#2b5d8a" stroke-width="0.8"/>
<circle cx="70.4" cy="386.1" r="1.8" fill="#f2f7fa" fill-opacity="0.6" stroke="#2b5d8a" stroke-width="0.8"/>
<circle cx="73.5" cy="386.1" r="1.8" fill="#f2f7fa" fill-opacity="0.6" stroke="#2b5d8a" stroke-width="0.8"/>
<circle cx="76.5" cy="386.1" r="1.8" fill="#f2f7fa" fill-opacity="0.6" stroke="#2b5d8a" stroke-width="0.8"/>
<circle cx="80" cy="386.1" r="1.8" fill="#f2f7fa" fill-opacity="0.6" stroke="#2b5d8a" stroke-width="0.8"/>
<circle cx="83.1" cy="386.1" r="1.8" fill="#f2f7fa" fill-opacity="0.6" stroke="#2b5d8a" stroke-width="0.8"/>
<circle cx="86.2" cy="386.1" r="1.8" fill="#f2f7fa" fill-opacity="0.6" stroke="#2b5d8a" stroke-width="0.8"/>
<circle cx="89.2" cy="386.1" r="1.8" fill="#f2f7fa" fill-opacity="0.6" stroke="#2b5d8a" stroke-width="0.8"/>
<circle cx="67.3" cy="388.6" r="1.8" fill="#f2f7fa" fill-opacity="0.6" stroke="#2b5d8a" stroke-width="0.8"/>
<circle cx="70.6" cy="388.6" r="1.8" fill="#f2f7fa" fill-opacity="0.6" stroke="#2b5d8a" stroke-width="0.8"/>
<circle cx="73.8" cy="388.6" r="1.8" fill="#f2f7fa" fill-opacity="0.6" stroke="#2b5d8a" stroke-width="0.8"/>
<circle cx="76.9" cy="388.6" r="1.8" fill="#f2f7fa" fill-opacity="0.6" stroke="#2b5d8a" stroke-width="0.8"/>
<circle cx="80" cy="388.6" r="1.8" fill="#f2f7fa" fill-opacity="0.6" stroke="#2b5d8a" stroke-width="0.8"/>
<circle cx="83.1" cy="388.6" r="1.8" fill="#f2f7fa" fill-opacity="0.6" stroke="#2b5d8a" stroke-width="0.8"/>
<circle cx="86.2" cy="388.6" r="1.8" fill="#f2f7fa" fill-opacity="0.6" stroke="#2b5d8a" stroke-width="0.8"/>
<circle cx="89.2" cy="388.6" r="1.8" fill="#f2f7fa" fill-opacity="0.6" stroke="#2b5d8a" stroke-width="0.8"/>
<circle cx="92" cy="388.6" r="1.8" fill="#f2f7fa" fill-opacity="0.6" stroke="#2b5d8a" stroke-width="0.8"/>
<circle cx="67.3" cy="391.3" r="1.8" fill="#f2f7fa" fill-opacity="0.6" stroke="#2b5d8a" stroke-width="0.8"/>
<circle cx="73.8" cy="391.3" r="1.8" fill="#f2f7fa" fill-opacity="0.6" stroke="#2b5d8a" stroke-width="0.8"/>
<circle cx="76.9" cy="391.3" r="1.8" fill="#f2f7fa" fill-opacity="0.6" stroke="#2b5d8a" stroke-width="0.8"/>
<circle cx="80" cy="391.3" r="1.8" fill="#f2f7fa" fill-opacity="0.6" stroke="#2b5d8a" stroke-width="0.8"/>
<circle cx="83.1" cy="391.3" r="1.8" fill="#f2f7fa" fill-opacity="0.6" stroke="#2b5d8a" stroke-width="0.8"/>
<circle cx="86.2" cy="391.3" r="1.8" fill="#f2f7fa" fill-opacity="0.6" stroke="#2b5d8a" stroke-width="0.8"/>
<circle cx="89.2" cy="391.3" r="1.8" fill="#f2f7fa" fill-opacity="0.6" stroke="#2b5d8a" stroke-width="0.8"/>
<circle cx="92" cy="391.3" r="1.8" fill="#f2f7fa" fill-opacity="0.6" stroke="#2b5d8a" stroke-width="0.8"/>
<circle cx="70.8" cy="393.4" r="1.8" fill="#f2f7fa" fill-opacity="0.6" stroke="#2b5d8a" stroke-width="0.8"/>
<circle cx="73.8" cy="393.4" r="1.8" fill="#f2f7fa" fill-opacity="0.6" stroke="#2b5d8a" stroke-width="0.8"/>
<circle cx="76.9" cy="393.4" r="1.8" fill="#f2f7fa" fill-opacity="0.6" stroke="#2b5d8a" stroke-width="0.8"/>
<circle cx="80" cy="393.4" r="1.8" fill="#f2f7fa" fill-opacity="0.6" stroke="#2b5d8a" stroke-width="0.8"/>
<circle cx="83.1" cy="393.4" r="1.8" fill="#f2f7fa" fill-opacity="0.6" stroke="#2b5d8a" stroke-width="0.8"/>
<circle cx="86.2" cy="393.4" r="1.8" fill="#f2f7fa" fill-opacity="0.6" stroke="#2b5d8a" stroke-width="0.8"/>
<circle cx="89.2" cy="393.4" r="1.8" fill="#f2f7fa" fill-opacity="0.6" stroke="#2b5d8a" stroke-width="0.8"/>
<circle cx="70.8" cy="395.7" r="1.8" fill="#f2f7fa" fill-opacity="0.6" stroke="#2b5d8a" stroke-width="0.8"/>
<circle cx="73.8" cy="395.7" r="1.8" fill="#f2f7fa" fill-opacity="0.6" stroke="#2b5d8a" stroke-width="0.8"/>
<circle cx="76.9" cy="395.7" r="1.8" fill="#f2f7fa" fill-opacity="0.6" stroke="#2b5d8a" stroke-width="0.8"/>
<circle cx="80" cy="395.7" r="1.8" fill="#f2f7fa" fill-opacity="0.6" stroke="#2b5d8a" stroke-width="0.8"/>
<circle cx="83.1" cy="395.7" r="1.8" fill="#f2f7fa" fill-opacity="0.6" stroke="#2b5d8a" stroke-width="0.8"/>
<circle cx="86.2" cy="395.7" r="1.8" fill="#f2f7fa" fill-opacity="0.6" stroke="#2b5d8a" stroke-width="0.8"/>
<circle cx="89.2" cy="395.7" r="1.8" fill="#f2f7fa" fill-opacity="0.6" stroke="#2b5d8a" stroke-width="0.8"/>
<circle cx="70.8" cy="398.4" r="1.8" fill="#f2f7fa" fill-opacity="0.6" stroke="#2b5d8a" stroke-width="0.8"/>
<circle cx="73.8" cy="398.4" r="1.8" fill="#f2f7fa" fill-opacity="0.6" stroke="#2b5d8a" stroke-width="0.8"/>
<circle cx="76.9" cy="398.4" r="1.8" fill="#f2f7fa" fill-opacity="0.6" stroke="#2b5d8a" stroke-width="0.8"/>
<circle cx="80" cy="398.4" r="1.8" fill="#f2f7fa" fill-opacity="0.6" stroke="#2b5d8a" stroke-width="0.8"/>
<circle cx="83.1" cy="398.4" r="1.8" fill="#f2f7fa" fill-opacity="0.6" stroke="#2b5d8a" stroke-width="0.8"/>
<circle cx="86.2" cy="398.4" r="1.8" fill="#f2f7fa" fill-opacity="0.6" stroke="#2b5d8a" stroke-width="0.8"/>
<circle cx="70.8" cy="400.7" r="1.8" fill="#f2f7fa" fill-opacity="0.6" stroke="#2b5d8a" stroke-width="0.8"/>
<circle cx="73.8" cy="400.7" r="1.8" fill="#f2f7fa" fill-opacity="0.6" stroke="#2b5d8a" stroke-width="0.8"/>
<circle cx="76.9" cy="400.7" r="1.8" fill="#f2f7fa" fill-opacity="0.6" stroke="#2b5d8a" stroke-width="0.8"/>
<circle cx="83.1" cy="400.7" r="1.8" fill="#f2f7fa" fill-opacity="0.6" stroke="#2b5d8a" stroke-width="0.8"/>
<circle cx="86.2" cy="400.7" r="1.8" fill="#f2f7fa" fill-opacity="0.6" stroke="#2b5d8a" stroke-width="0.8"/>
<circle cx="89.2" cy="400.7" r="1.8" fill="#f2f7fa" fill-opacity="0.6" stroke="#2b5d8a" stroke-width="0.8"/>
<circle cx="73.8" cy="402.8" r="1.8" fill="#f2f7fa" fill-opacity="0.6" stroke="#2b5d8a" stroke-width="0.8"/>
<circle cx="76.9" cy="402.8" r="1.8" fill="#f2f7fa" fill-opacity="0.6" stroke="#2b5d8a" stroke-width="0.8"/>
<circle cx="80" cy="402.8" r="1.8" fill="#f2f7fa" fill-opacity="0.6" stroke="#2b5d8a" stroke-width="0.8"/>
<circle cx="83.1" cy="402.8" r="1.8" fill="#f2f7fa" fill-opacity="0.6" stroke="#2b5d8a" stroke-width="0.8"/>
<circle cx="76.9" cy="404.5" r="1.8" fill="#f2f7fa" fill-opacity="0.6" stroke="#2b5d8a" stroke-width="0.8"/>
<circle cx="80" cy="404.5" r="1.8" fill="#f2f7fa" fill-opacity="0.6" stroke="#2b5d8a" stroke-width="0.8"/>
<circle cx="83.1" cy="404.5" r="1.8" fill="#f2f7fa" fill-opacity="0.6" stroke="#2b5d8a" stroke-width="0.8"/>
<circle cx="76.9" cy="406.8" r="1.8" fill="#f2f7fa" fill-opacity="0.6" stroke="#2b5d8a" stroke-width="0.8"/>
<circle cx="80" cy="406.8" r="1.8" fill="#f2f7fa" fill-opacity="0.6" stroke="#2b5d8a" stroke-width="0.8"/>
<circle cx="73.8" cy="409.8" r="1.8" fill="#f2f7fa" fill-opacity="0.6" stroke="#2b5d8a" stroke-width="0.8"/>
<circle cx="80" cy="409.8" r="1.8" fill="#f2f7fa" fill-opacity="0.6" stroke="#2b5d8a" stroke-width="0.8"/>
<circle cx="86.2" cy="409.8" r="1.8" fill="#f2f7fa" fill-opacity="0.6" stroke="#2b5d8a" stroke-width="0.8"/>
<circle cx="129.2" cy="279.1" r="1.65" fill="#b80f2c"/>
<circle cx="129.2" cy="288.3" r="1.65" fill="#b80f2c"/>
<circle cx="129.2" cy="300.8" r="1.65" fill="#b80f2c"/>
<circle cx="118.9" cy="312.7" r="1.65" fill="#b80f2c"/>
<circle cx="123.75" cy="313.3" r="1.65" fill="#b80f2c"/>
<circle cx="134" cy="311.9" r="1.65" fill="#b80f2c"/>
<circle cx="128.75" cy="315.8" r="1.65" fill="#b80f2c"/>
<circle cx="134" cy="314.75" r="1.65" fill="#b80f2c"/>
<circle cx="138.9" cy="314.5" r="1.65" fill="#b80f2c"/>
<circle cx="123.75" cy="320.5" r="1.65" fill="#b80f2c"/>
<circle cx="129" cy="321.6" r="1.65" fill="#b80f2c"/>
<circle cx="123.75" cy="324" r="1.65" fill="#b80f2c"/>
<circle cx="129" cy="327.3" r="1.65" fill="#b80f2c"/>
<circle cx="134" cy="326.5" r="1.65" fill="#b80f2c"/>
<circle cx="123.75" cy="328.9" r="1.65" fill="#b80f2c"/>
<circle cx="129" cy="330.9" r="1.65" fill="#b80f2c"/>
<circle cx="129" cy="336.5" r="1.65" fill="#b80f2c"/>
<circle cx="134" cy="341.4" r="1.65" fill="#b80f2c"/>
<circle cx="123.75" cy="343.1" r="1.65" fill="#b80f2c"/>
<circle cx="138.9" cy="345.2" r="1.65" fill="#b80f2c"/>
<circle cx="123.75" cy="347.6" r="1.65" fill="#b80f2c"/>
<circle cx="129" cy="346.9" r="1.65" fill="#b80f2c"/>
<circle cx="134" cy="346" r="1.65" fill="#b80f2c"/>
<circle cx="113.9" cy="352.5" r="1.65" fill="#b80f2c"/>
<circle cx="119.1" cy="353.1" r="1.65" fill="#b80f2c"/>
<circle cx="123.75" cy="353.1" r="1.65" fill="#b80f2c"/>
<circle cx="129" cy="353.9" r="1.65" fill="#b80f2c"/>
<circle cx="134" cy="353.3" r="1.65" fill="#b80f2c"/>
<circle cx="138.9" cy="351.8" r="1.65" fill="#b80f2c"/>
<circle cx="143.5" cy="352.1" r="1.65" fill="#b80f2c"/>
<circle cx="119.1" cy="355.9" r="1.65" fill="#b80f2c"/>
<circle cx="123.75" cy="356.7" r="1.65" fill="#b80f2c"/>
<circle cx="134" cy="356.7" r="1.65" fill="#b80f2c"/>
<circle cx="129" cy="357.5" r="1.65" fill="#b80f2c"/>
<circle cx="113.9" cy="358.3" r="1.65" fill="#b80f2c"/>
<circle cx="143.5" cy="357.5" r="1.65" fill="#b80f2c"/>
<circle cx="119.1" cy="358.75" r="1.65" fill="#b80f2c"/>
<circle cx="123.75" cy="358.75" r="1.65" fill="#b80f2c"/>
<circle cx="138.9" cy="361.1" r="1.65" fill="#b80f2c"/>
<circle cx="123.75" cy="362.5" r="1.65" fill="#b80f2c"/>
<circle cx="129" cy="362.2" r="1.65" fill="#b80f2c"/>
<circle cx="134" cy="362.5" r="1.65" fill="#b80f2c"/>
<circle cx="119.1" cy="366.3" r="1.65" fill="#b80f2c"/>
<circle cx="134" cy="365.9" r="1.65" fill="#b80f2c"/>
<circle cx="138.9" cy="365.6" r="1.65" fill="#b80f2c"/>
<circle cx="113.9" cy="368.4" r="1.65" fill="#b80f2c"/>
<circle cx="134" cy="368.2" r="1.65" fill="#b80f2c"/>
<circle cx="129" cy="367" r="1.65" fill="#b80f2c"/>
<circle cx="113.9" cy="370.8" r="1.65" fill="#b80f2c"/>
<circle cx="119.1" cy="370.8" r="1.65" fill="#b80f2c"/>
<circle cx="123.75" cy="371.1" r="1.65" fill="#b80f2c"/>
<circle cx="134" cy="370.8" r="1.65" fill="#b80f2c"/>
<circle cx="138.9" cy="371.8" r="1.65" fill="#b80f2c"/>
<circle cx="143.5" cy="371.8" r="1.65" fill="#b80f2c"/>
<circle cx="129" cy="372.3" r="1.65" fill="#b80f2c"/>
<circle cx="134" cy="374.4" r="1.65" fill="#b80f2c"/>
<circle cx="129" cy="380.1" r="1.65" fill="#b80f2c"/>
<circle cx="123.75" cy="381.5" r="1.65" fill="#b80f2c"/>
<circle cx="129" cy="382.75" r="1.65" fill="#b80f2c"/>
<circle cx="138.9" cy="383.3" r="1.65" fill="#b80f2c"/>
<circle cx="113.9" cy="385.9" r="1.65" fill="#b80f2c"/>
<circle cx="119.1" cy="386.4" r="1.65" fill="#b80f2c"/>
<circle cx="123.75" cy="385.7" r="1.65" fill="#b80f2c"/>
<circle cx="134" cy="385.4" r="1.65" fill="#b80f2c"/>
<circle cx="143.5" cy="387.4" r="1.65" fill="#b80f2c"/>
<circle cx="129" cy="388.5" r="1.65" fill="#b80f2c"/>
<circle cx="129" cy="390.6" r="1.65" fill="#b80f2c"/>
<circle cx="123.75" cy="393.7" r="1.65" fill="#b80f2c"/>
<circle cx="134" cy="393.7" r="1.65" fill="#b80f2c"/>
<circle cx="129" cy="395.8" r="1.65" fill="#b80f2c"/>
<circle cx="129" cy="398.4" r="1.65" fill="#b80f2c"/>
<circle cx="129" cy="401" r="1.65" fill="#b80f2c"/>
<circle cx="129" cy="403.4" r="1.65" fill="#b80f2c"/>
<circle cx="129" cy="405.7" r="1.65" fill="#b80f2c"/>
<circle cx="129" cy="413.2" r="1.65" fill="#b80f2c"/>
<line x1="129.1" y1="344.2" x2="129.1" y2="377.4" stroke="#1e1e1e" stroke-width="1"/>
<line x1="121.6" y1="344.2" x2="136.6" y2="344.2" stroke="#1e1e1e" stroke-width="1"/>
<line x1="121.6" y1="377.4" x2="136.6" y2="377.4" stroke="#1e1e1e" stroke-width="1"/>
<line x1="63.90" y1="377.5" x2="95.9" y2="377.5" stroke="#141414" stroke-width="1.35"/>
<line x1="113.1" y1="360.1" x2="145.1" y2="360.1" stroke="#141414" stroke-width="1.35"/>
<line x1="227.5" y1="355.2" x2="299.6" y2="386.7" stroke="#1e2a24" stroke-width="1"/>
<line x1="408.5" y1="391.5" x2="480.2" y2="358.6" stroke="#1e2a24" stroke-width="1"/>
<circle cx="232.5" cy="318.75" r="2.1" fill="#c8102e"/>
<circle cx="230" cy="321.8" r="2.1" fill="#c8102e"/>
<circle cx="247.9" cy="324.8" r="2.1" fill="#c8102e"/>
<circle cx="254.2" cy="333.75" r="2.1" fill="#c8102e"/>
<circle cx="237.5" cy="335" r="2.1" fill="#c8102e"/>
<circle cx="244.3" cy="335.4" r="2.1" fill="#c8102e"/>
<circle cx="238.5" cy="338.3" r="2.1" fill="#c8102e"/>
<circle cx="256.7" cy="338.3" r="2.1" fill="#c8102e"/>
<circle cx="243.75" cy="341.25" r="2.1" fill="#c8102e"/>
<circle cx="249.6" cy="341.25" r="2.1" fill="#c8102e"/>
<circle cx="252.9" cy="342.5" r="2.1" fill="#c8102e"/>
<circle cx="227.1" cy="343.75" r="2.1" fill="#c8102e"/>
<circle cx="245.8" cy="343.3" r="2.1" fill="#c8102e"/>
<circle cx="236.25" cy="345.8" r="2.1" fill="#c8102e"/>
<circle cx="241.25" cy="345.4" r="2.1" fill="#c8102e"/>
<circle cx="254.6" cy="345.8" r="2.1" fill="#c8102e"/>
<circle cx="229.2" cy="347.5" r="2.1" fill="#c8102e"/>
<circle cx="232.1" cy="348.75" r="2.1" fill="#c8102e"/>
<circle cx="259.2" cy="347.5" r="2.1" fill="#c8102e"/>
<circle cx="242.1" cy="348.75" r="2.1" fill="#c8102e"/>
<circle cx="268.1" cy="326.25" r="2.1" fill="#c8102e"/>
<circle cx="261.4" cy="332.3" r="2.1" fill="#c8102e"/>
<circle cx="263.9" cy="338.3" r="2.1" fill="#c8102e"/>
<circle cx="266.8" cy="347.5" r="2.1" fill="#c8102e"/>
<circle cx="283.1" cy="348.5" r="2.1" fill="#c8102e"/>
<circle cx="288.5" cy="349.6" r="2.1" fill="#c8102e"/>
<circle cx="228.3" cy="347.25" r="2.1" fill="#c8102e"/>
<circle cx="231.7" cy="348.5" r="2.1" fill="#c8102e"/>
<circle cx="236.25" cy="347.25" r="2.1" fill="#c8102e"/>
<circle cx="242.5" cy="348.5" r="2.1" fill="#c8102e"/>
<circle cx="236.7" cy="350.6" r="2.1" fill="#c8102e"/>
<circle cx="229.2" cy="352.25" r="2.1" fill="#c8102e"/>
<circle cx="246.7" cy="350.6" r="2.1" fill="#c8102e"/>
<circle cx="247.1" cy="353.1" r="2.1" fill="#c8102e"/>
<circle cx="251.25" cy="351.8" r="2.1" fill="#c8102e"/>
<circle cx="254.6" cy="347.25" r="2.1" fill="#c8102e"/>
<circle cx="258.3" cy="350.2" r="2.1" fill="#c8102e"/>
<circle cx="255.8" cy="353.9" r="2.1" fill="#c8102e"/>
<circle cx="232.1" cy="356.4" r="2.1" fill="#c8102e"/>
<circle cx="236.7" cy="355.2" r="2.1" fill="#c8102e"/>
<circle cx="240.8" cy="356.4" r="2.1" fill="#c8102e"/>
<circle cx="250.4" cy="356.4" r="2.1" fill="#c8102e"/>
<circle cx="235.8" cy="358.9" r="2.1" fill="#c8102e"/>
<circle cx="239.2" cy="358.5" r="2.1" fill="#c8102e"/>
<circle cx="243.3" cy="359.75" r="2.1" fill="#c8102e"/>
<circle cx="235" cy="361.8" r="2.1" fill="#c8102e"/>
<circle cx="237.9" cy="361.4" r="2.1" fill="#c8102e"/>
<circle cx="241.25" cy="362.25" r="2.1" fill="#c8102e"/>
<circle cx="245" cy="362.7" r="2.1" fill="#c8102e"/>
<circle cx="231.25" cy="363.5" r="2.1" fill="#c8102e"/>
<circle cx="249.6" cy="363.1" r="2.1" fill="#c8102e"/>
<circle cx="253.3" cy="362.7" r="2.1" fill="#c8102e"/>
<circle cx="257.1" cy="361" r="2.1" fill="#c8102e"/>
<circle cx="259.2" cy="359.3" r="2.1" fill="#c8102e"/>
<circle cx="233.3" cy="366" r="2.1" fill="#c8102e"/>
<circle cx="237.5" cy="365.2" r="2.1" fill="#c8102e"/>
<circle cx="240.8" cy="366" r="2.1" fill="#c8102e"/>
<circle cx="252.5" cy="365.2" r="2.1" fill="#c8102e"/>
<circle cx="258.3" cy="366" r="2.1" fill="#c8102e"/>
<circle cx="235.8" cy="369.3" r="2.1" fill="#c8102e"/>
<circle cx="240" cy="368.9" r="2.1" fill="#c8102e"/>
<circle cx="235" cy="371.4" r="2.1" fill="#c8102e"/>
<circle cx="242.1" cy="371" r="2.1" fill="#c8102e"/>
<circle cx="245.8" cy="371" r="2.1" fill="#c8102e"/>
<circle cx="251.7" cy="370.2" r="2.1" fill="#c8102e"/>
<circle cx="256.7" cy="371" r="2.1" fill="#c8102e"/>
<circle cx="240.8" cy="374.3" r="2.1" fill="#c8102e"/>
<circle cx="246.7" cy="375.6" r="2.1" fill="#c8102e"/>
<circle cx="251.7" cy="376" r="2.1" fill="#c8102e"/>
<circle cx="258.3" cy="373.5" r="2.1" fill="#c8102e"/>
<circle cx="258.3" cy="378.9" r="2.1" fill="#c8102e"/>
<circle cx="242.5" cy="384.3" r="2.1" fill="#c8102e"/>
<circle cx="245.8" cy="383.1" r="2.1" fill="#c8102e"/>
<circle cx="251.7" cy="383.9" r="2.1" fill="#c8102e"/>
<circle cx="256.7" cy="384.3" r="2.1" fill="#c8102e"/>
<circle cx="266.4" cy="347.25" r="2.1" fill="#c8102e"/>
<circle cx="265.2" cy="350.2" r="2.1" fill="#c8102e"/>
<circle cx="267.7" cy="350.2" r="2.1" fill="#c8102e"/>
<circle cx="283.1" cy="348.9" r="2.1" fill="#c8102e"/>
<circle cx="288.1" cy="350.6" r="2.1" fill="#c8102e"/>
<circle cx="259.3" cy="349.75" r="2.1" fill="#c8102e"/>
<circle cx="257.7" cy="353.1" r="2.1" fill="#c8102e"/>
<circle cx="261" cy="353.9" r="2.1" fill="#c8102e"/>
<circle cx="279.3" cy="353.5" r="2.1" fill="#c8102e"/>
<circle cx="258.9" cy="359.3" r="2.1" fill="#c8102e"/>
<circle cx="266.8" cy="362.25" r="2.1" fill="#c8102e"/>
<circle cx="272.25" cy="361" r="2.1" fill="#c8102e"/>
<circle cx="286" cy="361.4" r="2.1" fill="#c8102e"/>
<circle cx="261" cy="362.7" r="2.1" fill="#c8102e"/>
<circle cx="257.7" cy="363.9" r="2.1" fill="#c8102e"/>
<circle cx="274.75" cy="365.3" r="2.1" fill="#c8102e"/>
<circle cx="280.6" cy="365.6" r="2.1" fill="#c8102e"/>
<circle cx="262.7" cy="366" r="2.1" fill="#c8102e"/>
<circle cx="267.7" cy="368.1" r="2.1" fill="#c8102e"/>
<circle cx="278.5" cy="369.75" r="2.1" fill="#c8102e"/>
<circle cx="285.2" cy="369.75" r="2.1" fill="#c8102e"/>
<circle cx="258.5" cy="367.25" r="2.1" fill="#c8102e"/>
<circle cx="261" cy="371" r="2.1" fill="#c8102e"/>
<circle cx="257.25" cy="372.7" r="2.1" fill="#c8102e"/>
<circle cx="271.4" cy="371.4" r="2.1" fill="#c8102e"/>
<circle cx="273.5" cy="373.5" r="2.1" fill="#c8102e"/>
<circle cx="294.75" cy="373.1" r="2.1" fill="#c8102e"/>
<circle cx="294.75" cy="375.6" r="2.1" fill="#c8102e"/>
<circle cx="265.6" cy="376" r="2.1" fill="#c8102e"/>
<circle cx="269.3" cy="376.8" r="2.1" fill="#c8102e"/>
<circle cx="272.7" cy="378.9" r="2.1" fill="#c8102e"/>
<circle cx="258.9" cy="378.5" r="2.1" fill="#c8102e"/>
<circle cx="277.25" cy="378.9" r="2.1" fill="#c8102e"/>
<circle cx="291" cy="377.7" r="2.1" fill="#c8102e"/>
<circle cx="261.8" cy="381" r="2.1" fill="#c8102e"/>
<circle cx="266.8" cy="380.2" r="2.1" fill="#c8102e"/>
<circle cx="259.3" cy="383.9" r="2.1" fill="#c8102e"/>
<circle cx="263.9" cy="385.2" r="2.1" fill="#c8102e"/>
<circle cx="286.8" cy="385.2" r="2.1" fill="#c8102e"/>
<circle cx="290.8" cy="377.5" r="2.1" fill="#c8102e"/>
<circle cx="241.7" cy="384.9" r="2.1" fill="#c8102e"/>
<circle cx="244.6" cy="383.25" r="2.1" fill="#c8102e"/>
<circle cx="252.1" cy="383.25" r="2.1" fill="#c8102e"/>
<circle cx="243.3" cy="387.4" r="2.1" fill="#c8102e"/>
<circle cx="246.7" cy="386.6" r="2.1" fill="#c8102e"/>
<circle cx="250" cy="388.25" r="2.1" fill="#c8102e"/>
<circle cx="254.2" cy="385.3" r="2.1" fill="#c8102e"/>
<circle cx="255" cy="388.25" r="2.1" fill="#c8102e"/>
<circle cx="242.9" cy="392.4" r="2.1" fill="#c8102e"/>
<circle cx="246.7" cy="392.4" r="2.1" fill="#c8102e"/>
<circle cx="248.75" cy="395.3" r="2.1" fill="#c8102e"/>
<circle cx="247.5" cy="397.4" r="2.1" fill="#c8102e"/>
<circle cx="259.2" cy="385.3" r="2.1" fill="#c8102e"/>
<circle cx="259.2" cy="395.75" r="2.1" fill="#c8102e"/>
<circle cx="262.7" cy="382.8" r="2.1" fill="#c8102e"/>
<circle cx="261.4" cy="389.1" r="2.1" fill="#c8102e"/>
<circle cx="264.3" cy="387" r="2.1" fill="#c8102e"/>
<circle cx="267.7" cy="388.7" r="2.1" fill="#c8102e"/>
<circle cx="264.3" cy="390.3" r="2.1" fill="#c8102e"/>
<circle cx="273.1" cy="387.4" r="2.1" fill="#c8102e"/>
<circle cx="276.4" cy="389.5" r="2.1" fill="#c8102e"/>
<circle cx="285.2" cy="387" r="2.1" fill="#c8102e"/>
<circle cx="289.3" cy="387.4" r="2.1" fill="#c8102e"/>
<circle cx="285.2" cy="390.75" r="2.1" fill="#c8102e"/>
<circle cx="288.9" cy="391.2" r="2.1" fill="#c8102e"/>
<circle cx="260.6" cy="395.3" r="2.1" fill="#c8102e"/>
<circle cx="263.5" cy="397" r="2.1" fill="#c8102e"/>
<circle cx="273.5" cy="397" r="2.1" fill="#c8102e"/>
<circle cx="277.25" cy="398.7" r="2.1" fill="#c8102e"/>
<circle cx="271.8" cy="399.9" r="2.1" fill="#c8102e"/>
<circle cx="274.3" cy="403.25" r="2.1" fill="#c8102e"/>
<circle cx="294.75" cy="397.4" r="2.1" fill="#c8102e"/>
<circle cx="291.4" cy="412" r="2.1" fill="#c8102e"/>
<circle cx="297.5" cy="390.5" r="2.1" fill="#c8102e"/>
<circle cx="286.7" cy="387.5" r="2.1" fill="#c8102e"/>
<circle cx="236.25" cy="357.4" r="2.1" fill="#c8102e"/>
<circle cx="238.75" cy="358.6" r="2.1" fill="#c8102e"/>
<circle cx="241.25" cy="356.75" r="2.1" fill="#c8102e"/>
<circle cx="243.75" cy="359.9" r="2.1" fill="#c8102e"/>
<circle cx="235" cy="361.75" r="2.1" fill="#c8102e"/>
<circle cx="237.5" cy="361.75" r="2.1" fill="#c8102e"/>
<circle cx="240.6" cy="362.4" r="2.1" fill="#c8102e"/>
<circle cx="243.75" cy="363.6" r="2.1" fill="#c8102e"/>
<circle cx="233.1" cy="364.25" r="2.1" fill="#c8102e"/>
<circle cx="236.25" cy="364.9" r="2.1" fill="#c8102e"/>
<circle cx="239.4" cy="365.5" r="2.1" fill="#c8102e"/>
<circle cx="242.5" cy="366.75" r="2.1" fill="#c8102e"/>
<circle cx="245.6" cy="362.4" r="2.1" fill="#c8102e"/>
<circle cx="235" cy="368" r="2.1" fill="#c8102e"/>
<circle cx="238.1" cy="368.6" r="2.1" fill="#c8102e"/>
<circle cx="241.25" cy="370.5" r="2.1" fill="#c8102e"/>
<circle cx="243.75" cy="371.75" r="2.1" fill="#c8102e"/>
<circle cx="237.5" cy="371.75" r="2.1" fill="#c8102e"/>
<circle cx="436.3" cy="319.7" r="2.1" fill="#c8102e"/>
<circle cx="427.3" cy="327.8" r="2.1" fill="#c8102e"/>
<circle cx="420.7" cy="333.2" r="2.1" fill="#c8102e"/>
<circle cx="421.5" cy="338" r="2.1" fill="#c8102e"/>
<circle cx="428.2" cy="339.5" r="2.1" fill="#c8102e"/>
<circle cx="433" cy="336.75" r="2.1" fill="#c8102e"/>
<circle cx="437.6" cy="339.7" r="2.1" fill="#c8102e"/>
<circle cx="424.7" cy="350.1" r="2.1" fill="#c8102e"/>
<circle cx="428.8" cy="348.8" r="2.1" fill="#c8102e"/>
<circle cx="432.3" cy="349.7" r="2.1" fill="#c8102e"/>
<circle cx="429.7" cy="356.75" r="2.1" fill="#c8102e"/>
<circle cx="437.6" cy="353" r="2.1" fill="#c8102e"/>
<circle cx="466.1" cy="317.1" r="2.1" fill="#c8102e"/>
<circle cx="440.8" cy="323.75" r="2.1" fill="#c8102e"/>
<circle cx="453.6" cy="333.5" r="2.1" fill="#c8102e"/>
<circle cx="460" cy="336.5" r="2.1" fill="#c8102e"/>
<circle cx="452.3" cy="340.4" r="2.1" fill="#c8102e"/>
<circle cx="442.2" cy="347.3" r="2.1" fill="#c8102e"/>
<circle cx="447.3" cy="349.6" r="2.1" fill="#c8102e"/>
<circle cx="480.7" cy="338.9" r="2.1" fill="#c8102e"/>
<circle cx="470.5" cy="355.3" r="2.1" fill="#c8102e"/>
<circle cx="430.1" cy="357.3" r="2.1" fill="#c8102e"/>
<circle cx="422.2" cy="359.8" r="2.1" fill="#c8102e"/>
<circle cx="424.7" cy="362.75" r="2.1" fill="#c8102e"/>
<circle cx="426.75" cy="364.8" r="2.1" fill="#c8102e"/>
<circle cx="433.8" cy="361.9" r="2.1" fill="#c8102e"/>
<circle cx="437.2" cy="360.7" r="2.1" fill="#c8102e"/>
<circle cx="410.5" cy="365.25" r="2.1" fill="#c8102e"/>
<circle cx="414.7" cy="364.8" r="2.1" fill="#c8102e"/>
<circle cx="412.2" cy="367.75" r="2.1" fill="#c8102e"/>
<circle cx="432.2" cy="366.5" r="2.1" fill="#c8102e"/>
<circle cx="435.9" cy="366.1" r="2.1" fill="#c8102e"/>
<circle cx="421.75" cy="369.4" r="2.1" fill="#c8102e"/>
<circle cx="413.8" cy="371.5" r="2.1" fill="#c8102e"/>
<circle cx="418" cy="372.75" r="2.1" fill="#c8102e"/>
<circle cx="412.6" cy="374" r="2.1" fill="#c8102e"/>
<circle cx="425.9" cy="372.75" r="2.1" fill="#c8102e"/>
<circle cx="424.7" cy="375.25" r="2.1" fill="#c8102e"/>
<circle cx="434.7" cy="371.9" r="2.1" fill="#c8102e"/>
<circle cx="433" cy="375.25" r="2.1" fill="#c8102e"/>
<circle cx="406.3" cy="374.8" r="2.1" fill="#c8102e"/>
<circle cx="406.75" cy="376.9" r="2.1" fill="#c8102e"/>
<circle cx="419.25" cy="378.2" r="2.1" fill="#c8102e"/>
<circle cx="416.75" cy="380.25" r="2.1" fill="#c8102e"/>
<circle cx="412.6" cy="382.3" r="2.1" fill="#c8102e"/>
<circle cx="426.3" cy="380.7" r="2.1" fill="#c8102e"/>
<circle cx="434.7" cy="381.5" r="2.1" fill="#c8102e"/>
<circle cx="408.4" cy="384.4" r="2.1" fill="#c8102e"/>
<circle cx="406.3" cy="387.75" r="2.1" fill="#c8102e"/>
<circle cx="412.6" cy="387.75" r="2.1" fill="#c8102e"/>
<circle cx="418" cy="385.7" r="2.1" fill="#c8102e"/>
<circle cx="422.2" cy="386.5" r="2.1" fill="#c8102e"/>
<circle cx="428" cy="385.25" r="2.1" fill="#c8102e"/>
<circle cx="433" cy="383.6" r="2.1" fill="#c8102e"/>
<circle cx="403" cy="392.3" r="2.1" fill="#c8102e"/>
<circle cx="417.2" cy="389.8" r="2.1" fill="#c8102e"/>
<circle cx="421.75" cy="389.4" r="2.1" fill="#c8102e"/>
<circle cx="427.2" cy="391.5" r="2.1" fill="#c8102e"/>
<circle cx="431.3" cy="390.7" r="2.1" fill="#c8102e"/>
<circle cx="436.3" cy="389.8" r="2.1" fill="#c8102e"/>
<circle cx="459.8" cy="352.7" r="2.1" fill="#c8102e"/>
<circle cx="447.75" cy="358.5" r="2.1" fill="#c8102e"/>
<circle cx="451.1" cy="362.25" r="2.1" fill="#c8102e"/>
<circle cx="434.8" cy="362.25" r="2.1" fill="#c8102e"/>
<circle cx="449" cy="365.2" r="2.1" fill="#c8102e"/>
<circle cx="436.5" cy="365.2" r="2.1" fill="#c8102e"/>
<circle cx="463.6" cy="368.5" r="2.1" fill="#c8102e"/>
<circle cx="448.6" cy="368.9" r="2.1" fill="#c8102e"/>
<circle cx="437.75" cy="369.3" r="2.1" fill="#c8102e"/>
<circle cx="442.75" cy="371" r="2.1" fill="#c8102e"/>
<circle cx="451.9" cy="372.25" r="2.1" fill="#c8102e"/>
<circle cx="460.25" cy="371.8" r="2.1" fill="#c8102e"/>
<circle cx="473.6" cy="371" r="2.1" fill="#c8102e"/>
<circle cx="446.1" cy="374.3" r="2.1" fill="#c8102e"/>
<circle cx="461.5" cy="375.2" r="2.1" fill="#c8102e"/>
<circle cx="435.7" cy="375.2" r="2.1" fill="#c8102e"/>
<circle cx="442.3" cy="376" r="2.1" fill="#c8102e"/>
<circle cx="439.8" cy="379.3" r="2.1" fill="#c8102e"/>
<circle cx="446.1" cy="380.2" r="2.1" fill="#c8102e"/>
<circle cx="459.8" cy="380.2" r="2.1" fill="#c8102e"/>
<circle cx="465.25" cy="380.2" r="2.1" fill="#c8102e"/>
<circle cx="469.4" cy="378.1" r="2.1" fill="#c8102e"/>
<circle cx="470.25" cy="380.6" r="2.1" fill="#c8102e"/>
<circle cx="435.7" cy="381.8" r="2.1" fill="#c8102e"/>
<circle cx="441.5" cy="383.1" r="2.1" fill="#c8102e"/>
<circle cx="447.3" cy="383.5" r="2.1" fill="#c8102e"/>
<circle cx="466.1" cy="382.7" r="2.1" fill="#c8102e"/>
<circle cx="413" cy="388.1" r="2.1" fill="#c8102e"/>
<circle cx="417.6" cy="387.25" r="2.1" fill="#c8102e"/>
<circle cx="426.3" cy="387.25" r="2.1" fill="#c8102e"/>
<circle cx="403" cy="392.7" r="2.1" fill="#c8102e"/>
<circle cx="408" cy="394.3" r="2.1" fill="#c8102e"/>
<circle cx="411.75" cy="393.9" r="2.1" fill="#c8102e"/>
<circle cx="418" cy="391.4" r="2.1" fill="#c8102e"/>
<circle cx="423" cy="392.25" r="2.1" fill="#c8102e"/>
<circle cx="429.7" cy="391.8" r="2.1" fill="#c8102e"/>
<circle cx="434.7" cy="391" r="2.1" fill="#c8102e"/>
<circle cx="403" cy="397.7" r="2.1" fill="#c8102e"/>
<circle cx="408" cy="397.7" r="2.1" fill="#c8102e"/>
<circle cx="412.2" cy="398.5" r="2.1" fill="#c8102e"/>
<circle cx="415.9" cy="396.8" r="2.1" fill="#c8102e"/>
<circle cx="418" cy="394.3" r="2.1" fill="#c8102e"/>
<circle cx="425.1" cy="397.7" r="2.1" fill="#c8102e"/>
<circle cx="430.1" cy="396" r="2.1" fill="#c8102e"/>
<circle cx="436.3" cy="394.3" r="2.1" fill="#c8102e"/>
<circle cx="405.9" cy="400.6" r="2.1" fill="#c8102e"/>
<circle cx="410.5" cy="401.4" r="2.1" fill="#c8102e"/>
<circle cx="415.1" cy="401.8" r="2.1" fill="#c8102e"/>
<circle cx="421.3" cy="401.8" r="2.1" fill="#c8102e"/>
<circle cx="425.5" cy="402.7" r="2.1" fill="#c8102e"/>
<circle cx="431.3" cy="402.7" r="2.1" fill="#c8102e"/>
<circle cx="434.7" cy="401.8" r="2.1" fill="#c8102e"/>
<circle cx="429.7" cy="399.3" r="2.1" fill="#c8102e"/>
<circle cx="402.2" cy="406.4" r="2.1" fill="#c8102e"/>
<circle cx="410.5" cy="406.4" r="2.1" fill="#c8102e"/>
<circle cx="414.7" cy="404.75" r="2.1" fill="#c8102e"/>
<circle cx="420.5" cy="406.8" r="2.1" fill="#c8102e"/>
<circle cx="421.3" cy="408.9" r="2.1" fill="#c8102e"/>
<circle cx="431.3" cy="406.8" r="2.1" fill="#c8102e"/>
<circle cx="436.3" cy="409.3" r="2.1" fill="#c8102e"/>
<circle cx="412.6" cy="410.2" r="2.1" fill="#c8102e"/>
<circle cx="410.5" cy="414.75" r="2.1" fill="#c8102e"/>
<circle cx="439" cy="381.7" r="2.1" fill="#c8102e"/>
<circle cx="442.3" cy="382.9" r="2.1" fill="#c8102e"/>
<circle cx="446.5" cy="381.7" r="2.1" fill="#c8102e"/>
<circle cx="447.3" cy="384.2" r="2.1" fill="#c8102e"/>
<circle cx="439.4" cy="385" r="2.1" fill="#c8102e"/>
<circle cx="459.8" cy="380.8" r="2.1" fill="#c8102e"/>
<circle cx="465.7" cy="382" r="2.1" fill="#c8102e"/>
<circle cx="470.25" cy="381.25" r="2.1" fill="#c8102e"/>
<circle cx="440.7" cy="388.3" r="2.1" fill="#c8102e"/>
<circle cx="435.7" cy="390.8" r="2.1" fill="#c8102e"/>
<circle cx="442.3" cy="391.25" r="2.1" fill="#c8102e"/>
<circle cx="454.8" cy="390.4" r="2.1" fill="#c8102e"/>
<circle cx="458.6" cy="393.2" r="2.1" fill="#c8102e"/>
<circle cx="472.3" cy="389.6" r="2.1" fill="#c8102e"/>
<circle cx="469.8" cy="392.1" r="2.1" fill="#c8102e"/>
<circle cx="436.5" cy="393.75" r="2.1" fill="#c8102e"/>
<circle cx="446.5" cy="394.2" r="2.1" fill="#c8102e"/>
<circle cx="448.2" cy="396.25" r="2.1" fill="#c8102e"/>
<circle cx="438.2" cy="396.25" r="2.1" fill="#c8102e"/>
<circle cx="441.5" cy="398.3" r="2.1" fill="#c8102e"/>
<circle cx="443.6" cy="398.75" r="2.1" fill="#c8102e"/>
<circle cx="435.25" cy="401.7" r="2.1" fill="#c8102e"/>
<circle cx="441.9" cy="403.75" r="2.1" fill="#c8102e"/>
<circle cx="442.3" cy="407.1" r="2.1" fill="#c8102e"/>
<circle cx="436.5" cy="409.2" r="2.1" fill="#c8102e"/>
<circle cx="436.5" cy="411.25" r="2.1" fill="#c8102e"/>
<circle cx="408.1" cy="394.1" r="2.1" fill="#c8102e"/>
<circle cx="411.25" cy="394.1" r="2.1" fill="#c8102e"/>
<circle cx="414.4" cy="394.75" r="2.1" fill="#c8102e"/>
<circle cx="417.5" cy="393.5" r="2.1" fill="#c8102e"/>
<circle cx="409.4" cy="397.25" r="2.1" fill="#c8102e"/>
<circle cx="412.5" cy="397.25" r="2.1" fill="#c8102e"/>
<circle cx="415.6" cy="396.6" r="2.1" fill="#c8102e"/>
<circle cx="406.25" cy="397.9" r="2.1" fill="#c8102e"/>
<circle cx="403.75" cy="397.25" r="2.1" fill="#c8102e"/>
<circle cx="407.5" cy="401" r="2.1" fill="#c8102e"/>
<circle cx="410.6" cy="401" r="2.1" fill="#c8102e"/>
<circle cx="413.75" cy="400.4" r="2.1" fill="#c8102e"/>
<circle cx="416.9" cy="399.75" r="2.1" fill="#c8102e"/>
<circle cx="420" cy="399.75" r="2.1" fill="#c8102e"/>
<circle cx="409.4" cy="404.1" r="2.1" fill="#c8102e"/>
<circle cx="412.5" cy="403.5" r="2.1" fill="#c8102e"/>
<circle cx="415.6" cy="402.9" r="2.1" fill="#c8102e"/>
<circle cx="418.1" cy="402.25" r="2.1" fill="#c8102e"/>
<circle cx="421.25" cy="394.75" r="2.1" fill="#c8102e"/>
<circle cx="423.75" cy="392.25" r="2.1" fill="#c8102e"/>
<circle cx="426.9" cy="389.75" r="2.1" fill="#c8102e"/>
<circle cx="428.75" cy="387.25" r="2.1" fill="#c8102e"/>
<circle cx="425" cy="397.9" r="2.1" fill="#c8102e"/>
<circle cx="422.5" cy="401" r="2.1" fill="#c8102e"/>
<circle cx="426.25" cy="401" r="2.1" fill="#c8102e"/>
<circle cx="417.5" cy="379.1" r="2.1" fill="#c8102e"/>
<circle cx="420" cy="378.5" r="2.1" fill="#c8102e"/>
<circle cx="412.5" cy="381.9" r="2.1" fill="#c8102e"/>
<circle cx="408.75" cy="384.1" r="2.1" fill="#c8102e"/>
<circle cx="413.1" cy="387.6" r="2.1" fill="#c8102e"/>
<line x1="40.1" y1="117.44" x2="160" y2="117.44" stroke="#e06060" stroke-width="1" stroke-dasharray="1,1"/>
<line x1="40.1" y1="175.28" x2="160" y2="175.28" stroke="#e06060" stroke-width="1" stroke-dasharray="1,1"/>
<line x1="215.4" y1="137.97" x2="336.5" y2="137.97" stroke="#e06060" stroke-width="1" stroke-dasharray="1,1"/>
<line x1="215.4" y1="182.12" x2="336.5" y2="182.12" stroke="#e06060" stroke-width="1" stroke-dasharray="1,1"/>
<line x1="390.20" y1="150.94" x2="512.3" y2="150.94" stroke="#e06060" stroke-width="1" stroke-dasharray="1,1"/>
<line x1="390.20" y1="186.18" x2="512.3" y2="186.18" stroke="#e06060" stroke-width="1" stroke-dasharray="1,1"/>
<line x1="40.0" y1="349.9" x2="161.5" y2="349.9" stroke="#e06060" stroke-width="1" stroke-dasharray="1,1"/>
<line x1="40.0" y1="408.56" x2="161.5" y2="408.56" stroke="#e06060" stroke-width="1" stroke-dasharray="1,1"/>
<rect x="0.5" y="0.5" width="519" height="479" fill="none" stroke="#555" stroke-width="1"/>
</svg>
</body></html>
